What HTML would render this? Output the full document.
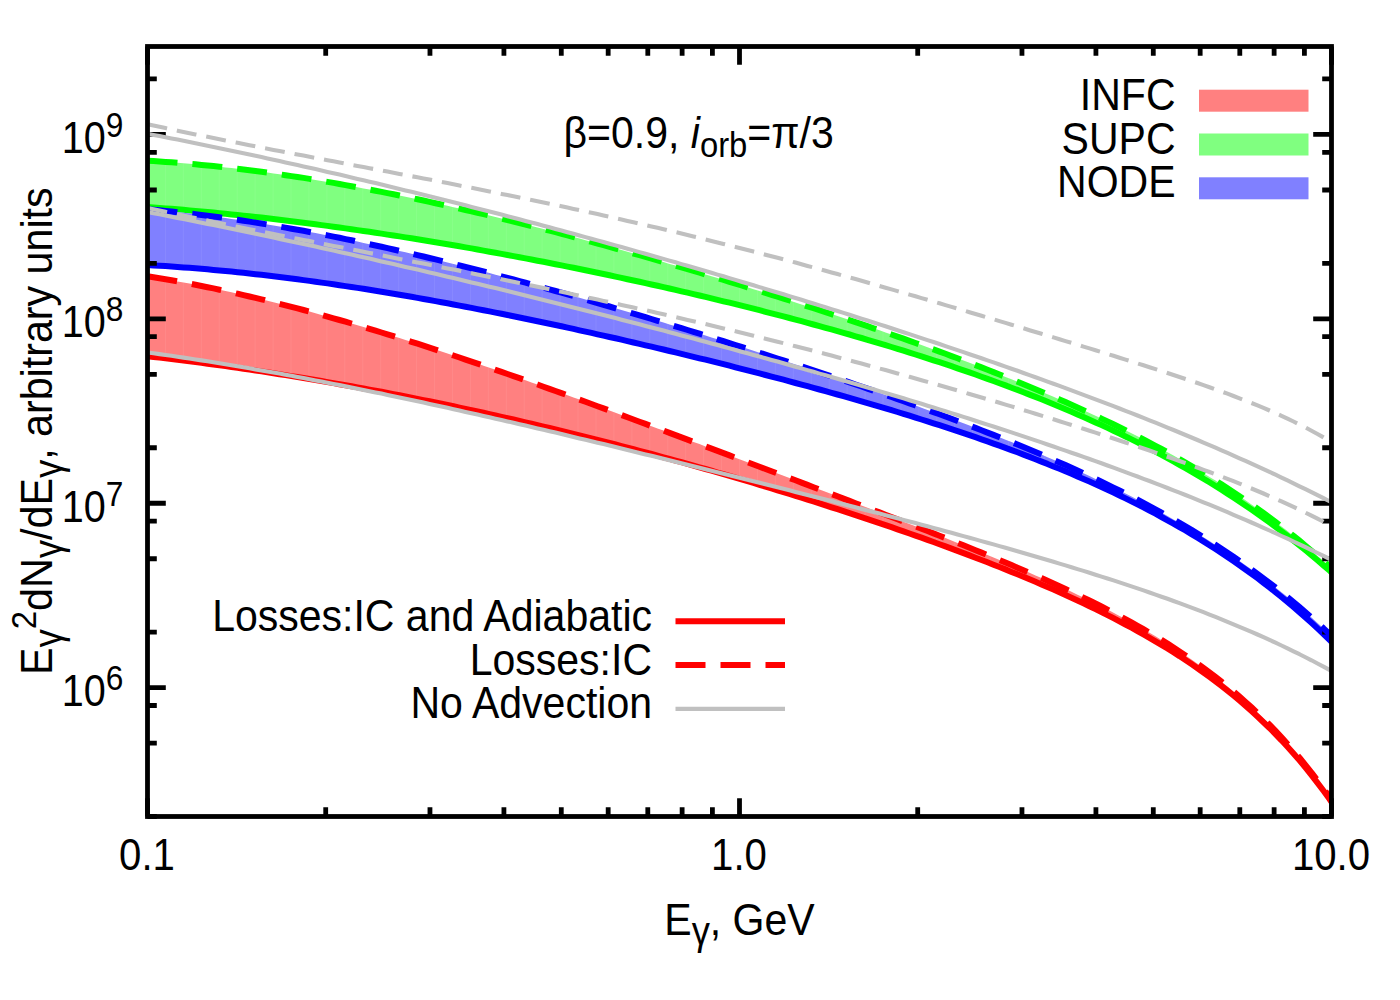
<!DOCTYPE html>
<html><head><meta charset="utf-8"><title>plot</title>
<style>html,body{margin:0;padding:0;background:#fff;}svg{display:block;}text{font-family:"Liberation Sans", sans-serif;fill:#000;}</style></head><body>
<svg width="1400" height="1000" viewBox="0 0 1400 1000">
<rect x="0" y="0" width="1400" height="1000" fill="#ffffff"/>
<clipPath id="c"><rect x="147.5" y="46.5" width="1184.0" height="770.0"/></clipPath>
<g clip-path="url(#c)" fill="none" stroke-linejoin="round">
<clipPath id="fr"><path d="M147.5,276.2 L153.5,277.2 L159.5,278.2 L165.5,279.2 L171.5,280.3 L177.5,281.4 L183.5,282.5 L189.5,283.6 L195.5,284.8 L201.5,286.0 L207.5,287.2 L213.5,288.4 L219.5,289.7 L225.5,291.0 L231.5,292.3 L237.5,293.7 L243.5,295.1 L249.5,296.5 L255.5,297.9 L261.5,299.3 L267.5,300.8 L273.5,302.3 L279.5,303.8 L285.5,305.3 L291.5,306.9 L297.5,308.4 L303.5,310.0 L309.5,311.6 L315.5,313.3 L321.5,314.9 L327.5,316.6 L333.5,318.3 L339.5,320.0 L345.5,321.7 L351.5,323.5 L357.5,325.2 L363.5,327.0 L369.5,328.8 L375.5,330.6 L381.5,332.5 L387.5,334.3 L393.5,336.2 L399.5,338.0 L405.5,339.9 L411.5,341.8 L417.5,343.7 L423.5,345.7 L429.5,347.6 L435.5,349.6 L441.5,351.6 L447.5,353.5 L453.5,355.5 L459.5,357.5 L465.5,359.6 L471.5,361.6 L477.5,363.6 L483.5,365.7 L489.5,367.7 L495.5,369.8 L501.5,371.9 L507.5,374.0 L513.5,376.1 L519.5,378.2 L525.5,380.3 L531.5,382.4 L537.5,384.5 L543.5,386.7 L549.5,388.8 L555.5,391.0 L561.5,393.1 L567.5,395.3 L573.5,397.5 L579.5,399.6 L585.5,401.8 L591.5,404.0 L597.5,406.2 L603.5,408.4 L609.5,410.6 L615.5,412.8 L621.5,415.0 L627.5,417.3 L633.5,419.5 L639.5,421.7 L645.5,423.9 L651.5,426.2 L657.5,428.4 L663.5,430.6 L669.5,432.9 L675.5,435.1 L681.5,437.4 L687.5,439.6 L693.5,441.9 L699.5,444.1 L705.5,446.4 L711.5,448.6 L717.5,450.9 L723.5,453.1 L729.5,455.4 L735.5,457.7 L741.5,459.9 L747.5,462.2 L753.5,464.5 L759.5,466.7 L765.5,469.0 L771.5,471.3 L777.5,473.5 L783.5,475.8 L789.5,478.1 L795.5,480.3 L801.5,482.6 L807.5,484.9 L813.5,487.2 L819.5,489.5 L825.5,491.7 L831.5,494.0 L837.5,496.3 L843.5,498.6 L849.5,500.9 L855.5,503.2 L861.5,505.5 L867.5,507.8 L873.5,510.1 L879.5,512.4 L885.5,514.7 L891.5,517.0 L897.5,519.3 L903.5,521.7 L909.5,524.0 L915.5,526.3 L921.5,528.7 L927.5,531.0 L933.5,533.4 L939.5,535.7 L945.5,538.1 L951.5,540.5 L957.5,542.9 L963.5,545.3 L969.5,547.7 L975.5,550.2 L981.5,552.6 L987.5,555.1 L993.5,557.6 L999.5,560.1 L1005.5,562.6 L1011.5,565.1 L1017.5,567.7 L1023.5,570.2 L1029.5,572.8 L1035.5,575.5 L1041.5,578.1 L1047.5,580.8 L1053.5,583.5 L1059.5,586.3 L1065.5,589.0 L1071.5,591.8 L1077.5,594.7 L1083.5,597.6 L1089.5,600.5 L1095.5,603.5 L1101.5,606.5 L1107.5,609.6 L1113.5,612.7 L1119.5,615.9 L1125.5,619.1 L1131.5,622.4 L1137.5,625.8 L1143.5,629.2 L1149.5,632.7 L1155.5,636.3 L1161.5,639.9 L1167.5,643.6 L1173.5,647.5 L1179.5,651.4 L1185.5,655.4 L1191.5,659.5 L1197.5,663.7 L1203.5,668.0 L1209.5,672.5 L1215.5,677.0 L1221.5,681.7 L1227.5,686.5 L1233.5,691.5 L1239.5,696.6 L1245.5,701.9 L1251.5,707.3 L1257.5,712.9 L1263.5,718.7 L1269.5,724.7 L1275.5,730.9 L1281.5,737.3 L1287.5,743.9 L1293.5,750.7 L1299.5,757.7 L1305.5,765.1 L1311.5,772.6 L1317.5,780.5 L1323.5,788.6 L1329.5,797.0 L1331.5,799.9 L1331.5,802.0 L1329.5,799.1 L1323.5,790.8 L1317.5,782.8 L1311.5,775.1 L1305.5,767.6 L1299.5,760.4 L1293.5,753.5 L1287.5,746.8 L1281.5,740.3 L1275.5,734.1 L1269.5,728.0 L1263.5,722.2 L1257.5,716.5 L1251.5,711.0 L1245.5,705.7 L1239.5,700.5 L1233.5,695.5 L1227.5,690.6 L1221.5,685.9 L1215.5,681.3 L1209.5,676.8 L1203.5,672.5 L1197.5,668.2 L1191.5,664.1 L1185.5,660.1 L1179.5,656.1 L1173.5,652.3 L1167.5,648.5 L1161.5,644.9 L1155.5,641.3 L1149.5,637.8 L1143.5,634.4 L1137.5,631.0 L1131.5,627.7 L1125.5,624.5 L1119.5,621.3 L1113.5,618.2 L1107.5,615.1 L1101.5,612.1 L1095.5,609.1 L1089.5,606.2 L1083.5,603.3 L1077.5,600.5 L1071.5,597.7 L1065.5,595.0 L1059.5,592.3 L1053.5,589.6 L1047.5,587.0 L1041.5,584.4 L1035.5,581.8 L1029.5,579.3 L1023.5,576.8 L1017.5,574.3 L1011.5,571.9 L1005.5,569.4 L999.5,567.0 L993.5,564.7 L987.5,562.3 L981.5,560.0 L975.5,557.7 L969.5,555.4 L963.5,553.1 L957.5,550.9 L951.5,548.6 L945.5,546.4 L939.5,544.2 L933.5,542.0 L927.5,539.9 L921.5,537.7 L915.5,535.6 L909.5,533.5 L903.5,531.4 L897.5,529.3 L891.5,527.2 L885.5,525.2 L879.5,523.1 L873.5,521.1 L867.5,519.1 L861.5,517.1 L855.5,515.1 L849.5,513.1 L843.5,511.2 L837.5,509.2 L831.5,507.3 L825.5,505.3 L819.5,503.4 L813.5,501.5 L807.5,499.6 L801.5,497.7 L795.5,495.8 L789.5,494.0 L783.5,492.1 L777.5,490.3 L771.5,488.5 L765.5,486.6 L759.5,484.8 L753.5,483.0 L747.5,481.2 L741.5,479.5 L735.5,477.7 L729.5,475.9 L723.5,474.2 L717.5,472.5 L711.5,470.7 L705.5,469.0 L699.5,467.3 L693.5,465.6 L687.5,463.9 L681.5,462.2 L675.5,460.6 L669.5,458.9 L663.5,457.3 L657.5,455.6 L651.5,454.0 L645.5,452.4 L639.5,450.8 L633.5,449.2 L627.5,447.6 L621.5,446.1 L615.5,444.5 L609.5,442.9 L603.5,441.4 L597.5,439.9 L591.5,438.3 L585.5,436.8 L579.5,435.3 L573.5,433.8 L567.5,432.4 L561.5,430.9 L555.5,429.4 L549.5,428.0 L543.5,426.6 L537.5,425.1 L531.5,423.7 L525.5,422.3 L519.5,420.9 L513.5,419.5 L507.5,418.2 L501.5,416.8 L495.5,415.4 L489.5,414.1 L483.5,412.8 L477.5,411.5 L471.5,410.1 L465.5,408.9 L459.5,407.6 L453.5,406.3 L447.5,405.0 L441.5,403.8 L435.5,402.5 L429.5,401.3 L423.5,400.1 L417.5,398.9 L411.5,397.7 L405.5,396.5 L399.5,395.3 L393.5,394.1 L387.5,393.0 L381.5,391.8 L375.5,390.7 L369.5,389.6 L363.5,388.5 L357.5,387.4 L351.5,386.3 L345.5,385.2 L339.5,384.2 L333.5,383.1 L327.5,382.1 L321.5,381.0 L315.5,380.0 L309.5,379.0 L303.5,378.0 L297.5,377.0 L291.5,376.1 L285.5,375.1 L279.5,374.2 L273.5,373.2 L267.5,372.3 L261.5,371.4 L255.5,370.5 L249.5,369.6 L243.5,368.7 L237.5,367.8 L231.5,367.0 L225.5,366.1 L219.5,365.3 L213.5,364.5 L207.5,363.7 L201.5,362.9 L195.5,362.1 L189.5,361.3 L183.5,360.5 L177.5,359.8 L171.5,359.0 L165.5,358.3 L159.5,357.6 L153.5,356.9 L147.5,356.2 Z"/></clipPath>
<path d="M147.5,276.2 L153.5,277.2 L159.5,278.2 L165.5,279.2 L171.5,280.3 L177.5,281.4 L183.5,282.5 L189.5,283.6 L195.5,284.8 L201.5,286.0 L207.5,287.2 L213.5,288.4 L219.5,289.7 L225.5,291.0 L231.5,292.3 L237.5,293.7 L243.5,295.1 L249.5,296.5 L255.5,297.9 L261.5,299.3 L267.5,300.8 L273.5,302.3 L279.5,303.8 L285.5,305.3 L291.5,306.9 L297.5,308.4 L303.5,310.0 L309.5,311.6 L315.5,313.3 L321.5,314.9 L327.5,316.6 L333.5,318.3 L339.5,320.0 L345.5,321.7 L351.5,323.5 L357.5,325.2 L363.5,327.0 L369.5,328.8 L375.5,330.6 L381.5,332.5 L387.5,334.3 L393.5,336.2 L399.5,338.0 L405.5,339.9 L411.5,341.8 L417.5,343.7 L423.5,345.7 L429.5,347.6 L435.5,349.6 L441.5,351.6 L447.5,353.5 L453.5,355.5 L459.5,357.5 L465.5,359.6 L471.5,361.6 L477.5,363.6 L483.5,365.7 L489.5,367.7 L495.5,369.8 L501.5,371.9 L507.5,374.0 L513.5,376.1 L519.5,378.2 L525.5,380.3 L531.5,382.4 L537.5,384.5 L543.5,386.7 L549.5,388.8 L555.5,391.0 L561.5,393.1 L567.5,395.3 L573.5,397.5 L579.5,399.6 L585.5,401.8 L591.5,404.0 L597.5,406.2 L603.5,408.4 L609.5,410.6 L615.5,412.8 L621.5,415.0 L627.5,417.3 L633.5,419.5 L639.5,421.7 L645.5,423.9 L651.5,426.2 L657.5,428.4 L663.5,430.6 L669.5,432.9 L675.5,435.1 L681.5,437.4 L687.5,439.6 L693.5,441.9 L699.5,444.1 L705.5,446.4 L711.5,448.6 L717.5,450.9 L723.5,453.1 L729.5,455.4 L735.5,457.7 L741.5,459.9 L747.5,462.2 L753.5,464.5 L759.5,466.7 L765.5,469.0 L771.5,471.3 L777.5,473.5 L783.5,475.8 L789.5,478.1 L795.5,480.3 L801.5,482.6 L807.5,484.9 L813.5,487.2 L819.5,489.5 L825.5,491.7 L831.5,494.0 L837.5,496.3 L843.5,498.6 L849.5,500.9 L855.5,503.2 L861.5,505.5 L867.5,507.8 L873.5,510.1 L879.5,512.4 L885.5,514.7 L891.5,517.0 L897.5,519.3 L903.5,521.7 L909.5,524.0 L915.5,526.3 L921.5,528.7 L927.5,531.0 L933.5,533.4 L939.5,535.7 L945.5,538.1 L951.5,540.5 L957.5,542.9 L963.5,545.3 L969.5,547.7 L975.5,550.2 L981.5,552.6 L987.5,555.1 L993.5,557.6 L999.5,560.1 L1005.5,562.6 L1011.5,565.1 L1017.5,567.7 L1023.5,570.2 L1029.5,572.8 L1035.5,575.5 L1041.5,578.1 L1047.5,580.8 L1053.5,583.5 L1059.5,586.3 L1065.5,589.0 L1071.5,591.8 L1077.5,594.7 L1083.5,597.6 L1089.5,600.5 L1095.5,603.5 L1101.5,606.5 L1107.5,609.6 L1113.5,612.7 L1119.5,615.9 L1125.5,619.1 L1131.5,622.4 L1137.5,625.8 L1143.5,629.2 L1149.5,632.7 L1155.5,636.3 L1161.5,639.9 L1167.5,643.6 L1173.5,647.5 L1179.5,651.4 L1185.5,655.4 L1191.5,659.5 L1197.5,663.7 L1203.5,668.0 L1209.5,672.5 L1215.5,677.0 L1221.5,681.7 L1227.5,686.5 L1233.5,691.5 L1239.5,696.6 L1245.5,701.9 L1251.5,707.3 L1257.5,712.9 L1263.5,718.7 L1269.5,724.7 L1275.5,730.9 L1281.5,737.3 L1287.5,743.9 L1293.5,750.7 L1299.5,757.7 L1305.5,765.1 L1311.5,772.6 L1317.5,780.5 L1323.5,788.6 L1329.5,797.0 L1331.5,799.9 L1331.5,802.0 L1329.5,799.1 L1323.5,790.8 L1317.5,782.8 L1311.5,775.1 L1305.5,767.6 L1299.5,760.4 L1293.5,753.5 L1287.5,746.8 L1281.5,740.3 L1275.5,734.1 L1269.5,728.0 L1263.5,722.2 L1257.5,716.5 L1251.5,711.0 L1245.5,705.7 L1239.5,700.5 L1233.5,695.5 L1227.5,690.6 L1221.5,685.9 L1215.5,681.3 L1209.5,676.8 L1203.5,672.5 L1197.5,668.2 L1191.5,664.1 L1185.5,660.1 L1179.5,656.1 L1173.5,652.3 L1167.5,648.5 L1161.5,644.9 L1155.5,641.3 L1149.5,637.8 L1143.5,634.4 L1137.5,631.0 L1131.5,627.7 L1125.5,624.5 L1119.5,621.3 L1113.5,618.2 L1107.5,615.1 L1101.5,612.1 L1095.5,609.1 L1089.5,606.2 L1083.5,603.3 L1077.5,600.5 L1071.5,597.7 L1065.5,595.0 L1059.5,592.3 L1053.5,589.6 L1047.5,587.0 L1041.5,584.4 L1035.5,581.8 L1029.5,579.3 L1023.5,576.8 L1017.5,574.3 L1011.5,571.9 L1005.5,569.4 L999.5,567.0 L993.5,564.7 L987.5,562.3 L981.5,560.0 L975.5,557.7 L969.5,555.4 L963.5,553.1 L957.5,550.9 L951.5,548.6 L945.5,546.4 L939.5,544.2 L933.5,542.0 L927.5,539.9 L921.5,537.7 L915.5,535.6 L909.5,533.5 L903.5,531.4 L897.5,529.3 L891.5,527.2 L885.5,525.2 L879.5,523.1 L873.5,521.1 L867.5,519.1 L861.5,517.1 L855.5,515.1 L849.5,513.1 L843.5,511.2 L837.5,509.2 L831.5,507.3 L825.5,505.3 L819.5,503.4 L813.5,501.5 L807.5,499.6 L801.5,497.7 L795.5,495.8 L789.5,494.0 L783.5,492.1 L777.5,490.3 L771.5,488.5 L765.5,486.6 L759.5,484.8 L753.5,483.0 L747.5,481.2 L741.5,479.5 L735.5,477.7 L729.5,475.9 L723.5,474.2 L717.5,472.5 L711.5,470.7 L705.5,469.0 L699.5,467.3 L693.5,465.6 L687.5,463.9 L681.5,462.2 L675.5,460.6 L669.5,458.9 L663.5,457.3 L657.5,455.6 L651.5,454.0 L645.5,452.4 L639.5,450.8 L633.5,449.2 L627.5,447.6 L621.5,446.1 L615.5,444.5 L609.5,442.9 L603.5,441.4 L597.5,439.9 L591.5,438.3 L585.5,436.8 L579.5,435.3 L573.5,433.8 L567.5,432.4 L561.5,430.9 L555.5,429.4 L549.5,428.0 L543.5,426.6 L537.5,425.1 L531.5,423.7 L525.5,422.3 L519.5,420.9 L513.5,419.5 L507.5,418.2 L501.5,416.8 L495.5,415.4 L489.5,414.1 L483.5,412.8 L477.5,411.5 L471.5,410.1 L465.5,408.9 L459.5,407.6 L453.5,406.3 L447.5,405.0 L441.5,403.8 L435.5,402.5 L429.5,401.3 L423.5,400.1 L417.5,398.9 L411.5,397.7 L405.5,396.5 L399.5,395.3 L393.5,394.1 L387.5,393.0 L381.5,391.8 L375.5,390.7 L369.5,389.6 L363.5,388.5 L357.5,387.4 L351.5,386.3 L345.5,385.2 L339.5,384.2 L333.5,383.1 L327.5,382.1 L321.5,381.0 L315.5,380.0 L309.5,379.0 L303.5,378.0 L297.5,377.0 L291.5,376.1 L285.5,375.1 L279.5,374.2 L273.5,373.2 L267.5,372.3 L261.5,371.4 L255.5,370.5 L249.5,369.6 L243.5,368.7 L237.5,367.8 L231.5,367.0 L225.5,366.1 L219.5,365.3 L213.5,364.5 L207.5,363.7 L201.5,362.9 L195.5,362.1 L189.5,361.3 L183.5,360.5 L177.5,359.8 L171.5,359.0 L165.5,358.3 L159.5,357.6 L153.5,356.9 L147.5,356.2 Z" fill="#ff8080" stroke="none"/>
<path d="M165.44,46.5V816.5M183.38,46.5V816.5M201.32,46.5V816.5M219.26,46.5V816.5M237.20,46.5V816.5M255.14,46.5V816.5M273.08,46.5V816.5M291.02,46.5V816.5M308.95,46.5V816.5M326.89,46.5V816.5M344.83,46.5V816.5M362.77,46.5V816.5M380.71,46.5V816.5M398.65,46.5V816.5M416.59,46.5V816.5M434.53,46.5V816.5M452.47,46.5V816.5M470.41,46.5V816.5M488.35,46.5V816.5M506.29,46.5V816.5M524.23,46.5V816.5M542.17,46.5V816.5M560.11,46.5V816.5M578.05,46.5V816.5M595.98,46.5V816.5M613.92,46.5V816.5M631.86,46.5V816.5M649.80,46.5V816.5M667.74,46.5V816.5M685.68,46.5V816.5M703.62,46.5V816.5M721.56,46.5V816.5M739.50,46.5V816.5M757.44,46.5V816.5M775.38,46.5V816.5M793.32,46.5V816.5M811.26,46.5V816.5M829.20,46.5V816.5M847.14,46.5V816.5M865.08,46.5V816.5M883.02,46.5V816.5M900.95,46.5V816.5M918.89,46.5V816.5M936.83,46.5V816.5M954.77,46.5V816.5M972.71,46.5V816.5M990.65,46.5V816.5M1008.59,46.5V816.5M1026.53,46.5V816.5M1044.47,46.5V816.5M1062.41,46.5V816.5M1080.35,46.5V816.5M1098.29,46.5V816.5M1116.23,46.5V816.5M1134.17,46.5V816.5M1152.11,46.5V816.5M1170.05,46.5V816.5M1187.98,46.5V816.5M1205.92,46.5V816.5M1223.86,46.5V816.5M1241.80,46.5V816.5M1259.74,46.5V816.5M1277.68,46.5V816.5M1295.62,46.5V816.5M1313.56,46.5V816.5" stroke="#ffffff" stroke-opacity="0.07" stroke-width="1" clip-path="url(#fr)"/>
<path d="M147.5,356.2 L153.5,356.9 L159.5,357.6 L165.5,358.3 L171.5,359.0 L177.5,359.8 L183.5,360.5 L189.5,361.3 L195.5,362.1 L201.5,362.9 L207.5,363.7 L213.5,364.5 L219.5,365.3 L225.5,366.1 L231.5,367.0 L237.5,367.8 L243.5,368.7 L249.5,369.6 L255.5,370.5 L261.5,371.4 L267.5,372.3 L273.5,373.2 L279.5,374.2 L285.5,375.1 L291.5,376.1 L297.5,377.0 L303.5,378.0 L309.5,379.0 L315.5,380.0 L321.5,381.0 L327.5,382.1 L333.5,383.1 L339.5,384.2 L345.5,385.2 L351.5,386.3 L357.5,387.4 L363.5,388.5 L369.5,389.6 L375.5,390.7 L381.5,391.8 L387.5,393.0 L393.5,394.1 L399.5,395.3 L405.5,396.5 L411.5,397.7 L417.5,398.9 L423.5,400.1 L429.5,401.3 L435.5,402.5 L441.5,403.8 L447.5,405.0 L453.5,406.3 L459.5,407.6 L465.5,408.9 L471.5,410.1 L477.5,411.5 L483.5,412.8 L489.5,414.1 L495.5,415.4 L501.5,416.8 L507.5,418.2 L513.5,419.5 L519.5,420.9 L525.5,422.3 L531.5,423.7 L537.5,425.1 L543.5,426.6 L549.5,428.0 L555.5,429.4 L561.5,430.9 L567.5,432.4 L573.5,433.8 L579.5,435.3 L585.5,436.8 L591.5,438.3 L597.5,439.9 L603.5,441.4 L609.5,442.9 L615.5,444.5 L621.5,446.1 L627.5,447.6 L633.5,449.2 L639.5,450.8 L645.5,452.4 L651.5,454.0 L657.5,455.6 L663.5,457.3 L669.5,458.9 L675.5,460.6 L681.5,462.2 L687.5,463.9 L693.5,465.6 L699.5,467.3 L705.5,469.0 L711.5,470.7 L717.5,472.5 L723.5,474.2 L729.5,475.9 L735.5,477.7 L741.5,479.5 L747.5,481.2 L753.5,483.0 L759.5,484.8 L765.5,486.6 L771.5,488.5 L777.5,490.3 L783.5,492.1 L789.5,494.0 L795.5,495.8 L801.5,497.7 L807.5,499.6 L813.5,501.5 L819.5,503.4 L825.5,505.3 L831.5,507.3 L837.5,509.2 L843.5,511.2 L849.5,513.1 L855.5,515.1 L861.5,517.1 L867.5,519.1 L873.5,521.1 L879.5,523.1 L885.5,525.2 L891.5,527.2 L897.5,529.3 L903.5,531.4 L909.5,533.5 L915.5,535.6 L921.5,537.7 L927.5,539.9 L933.5,542.0 L939.5,544.2 L945.5,546.4 L951.5,548.6 L957.5,550.9 L963.5,553.1 L969.5,555.4 L975.5,557.7 L981.5,560.0 L987.5,562.3 L993.5,564.7 L999.5,567.0 L1005.5,569.4 L1011.5,571.9 L1017.5,574.3 L1023.5,576.8 L1029.5,579.3 L1035.5,581.8 L1041.5,584.4 L1047.5,587.0 L1053.5,589.6 L1059.5,592.3 L1065.5,595.0 L1071.5,597.7 L1077.5,600.5 L1083.5,603.3 L1089.5,606.2 L1095.5,609.1 L1101.5,612.1 L1107.5,615.1 L1113.5,618.2 L1119.5,621.3 L1125.5,624.5 L1131.5,627.7 L1137.5,631.0 L1143.5,634.4 L1149.5,637.8 L1155.5,641.3 L1161.5,644.9 L1167.5,648.5 L1173.5,652.3 L1179.5,656.1 L1185.5,660.1 L1191.5,664.1 L1197.5,668.2 L1203.5,672.5 L1209.5,676.8 L1215.5,681.3 L1221.5,685.9 L1227.5,690.6 L1233.5,695.5 L1239.5,700.5 L1245.5,705.7 L1251.5,711.0 L1257.5,716.5 L1263.5,722.2 L1269.5,728.0 L1275.5,734.1 L1281.5,740.3 L1287.5,746.8 L1293.5,753.5 L1299.5,760.4 L1305.5,767.6 L1311.5,775.1 L1317.5,782.8 L1323.5,790.8 L1329.5,799.1 L1331.5,802.0" stroke="#ff0000" stroke-width="6.0"/>
<clipPath id="fg"><path d="M147.5,160.8 L153.5,161.1 L159.5,161.5 L165.5,161.9 L171.5,162.3 L177.5,162.8 L183.5,163.3 L189.5,163.8 L195.5,164.3 L201.5,164.9 L207.5,165.5 L213.5,166.1 L219.5,166.7 L225.5,167.4 L231.5,168.1 L237.5,168.8 L243.5,169.5 L249.5,170.2 L255.5,171.0 L261.5,171.8 L267.5,172.6 L273.5,173.5 L279.5,174.3 L285.5,175.2 L291.5,176.1 L297.5,177.0 L303.5,177.9 L309.5,178.9 L315.5,179.9 L321.5,180.9 L327.5,181.9 L333.5,182.9 L339.5,184.0 L345.5,185.1 L351.5,186.2 L357.5,187.3 L363.5,188.4 L369.5,189.5 L375.5,190.7 L381.5,191.9 L387.5,193.1 L393.5,194.3 L399.5,195.5 L405.5,196.7 L411.5,198.0 L417.5,199.3 L423.5,200.5 L429.5,201.9 L435.5,203.2 L441.5,204.5 L447.5,205.8 L453.5,207.2 L459.5,208.6 L465.5,210.0 L471.5,211.4 L477.5,212.8 L483.5,214.2 L489.5,215.6 L495.5,217.1 L501.5,218.6 L507.5,220.0 L513.5,221.5 L519.5,223.0 L525.5,224.5 L531.5,226.0 L537.5,227.6 L543.5,229.1 L549.5,230.7 L555.5,232.2 L561.5,233.8 L567.5,235.4 L573.5,237.0 L579.5,238.6 L585.5,240.2 L591.5,241.9 L597.5,243.5 L603.5,245.1 L609.5,246.8 L615.5,248.5 L621.5,250.1 L627.5,251.8 L633.5,253.5 L639.5,255.2 L645.5,256.9 L651.5,258.6 L657.5,260.4 L663.5,262.1 L669.5,263.9 L675.5,265.6 L681.5,267.4 L687.5,269.1 L693.5,270.9 L699.5,272.7 L705.5,274.5 L711.5,276.3 L717.5,278.1 L723.5,279.9 L729.5,281.8 L735.5,283.6 L741.5,285.4 L747.5,287.3 L753.5,289.2 L759.5,291.0 L765.5,292.9 L771.5,294.8 L777.5,296.7 L783.5,298.6 L789.5,300.5 L795.5,302.4 L801.5,304.4 L807.5,306.3 L813.5,308.2 L819.5,310.2 L825.5,312.2 L831.5,314.1 L837.5,316.1 L843.5,318.1 L849.5,320.1 L855.5,322.2 L861.5,324.2 L867.5,326.2 L873.5,328.3 L879.5,330.3 L885.5,332.4 L891.5,334.5 L897.5,336.6 L903.5,338.7 L909.5,340.8 L915.5,343.0 L921.5,345.1 L927.5,347.3 L933.5,349.4 L939.5,351.6 L945.5,353.8 L951.5,356.1 L957.5,358.3 L963.5,360.6 L969.5,362.8 L975.5,365.1 L981.5,367.4 L987.5,369.8 L993.5,372.1 L999.5,374.5 L1005.5,376.9 L1011.5,379.3 L1017.5,381.7 L1023.5,384.2 L1029.5,386.7 L1035.5,389.2 L1041.5,391.7 L1047.5,394.2 L1053.5,396.8 L1059.5,399.4 L1065.5,402.1 L1071.5,404.7 L1077.5,407.4 L1083.5,410.2 L1089.5,412.9 L1095.5,415.7 L1101.5,418.6 L1107.5,421.4 L1113.5,424.3 L1119.5,427.3 L1125.5,430.2 L1131.5,433.3 L1137.5,436.3 L1143.5,439.4 L1149.5,442.6 L1155.5,445.8 L1161.5,449.0 L1167.5,452.3 L1173.5,455.6 L1179.5,459.0 L1185.5,462.5 L1191.5,466.0 L1197.5,469.6 L1203.5,473.2 L1209.5,476.9 L1215.5,480.6 L1221.5,484.4 L1227.5,488.3 L1233.5,492.2 L1239.5,496.2 L1245.5,500.3 L1251.5,504.5 L1257.5,508.7 L1263.5,513.0 L1269.5,517.4 L1275.5,521.9 L1281.5,526.5 L1287.5,531.1 L1293.5,535.9 L1299.5,540.7 L1305.5,545.7 L1311.5,550.7 L1317.5,555.9 L1323.5,561.1 L1329.5,566.5 L1331.5,568.3 L1331.5,572.4 L1329.5,570.6 L1323.5,565.4 L1317.5,560.2 L1311.5,555.2 L1305.5,550.2 L1299.5,545.4 L1293.5,540.6 L1287.5,535.9 L1281.5,531.3 L1275.5,526.8 L1269.5,522.4 L1263.5,518.1 L1257.5,513.8 L1251.5,509.6 L1245.5,505.5 L1239.5,501.5 L1233.5,497.5 L1227.5,493.6 L1221.5,489.8 L1215.5,486.0 L1209.5,482.3 L1203.5,478.7 L1197.5,475.1 L1191.5,471.6 L1185.5,468.2 L1179.5,464.8 L1173.5,461.4 L1167.5,458.1 L1161.5,454.9 L1155.5,451.7 L1149.5,448.6 L1143.5,445.5 L1137.5,442.4 L1131.5,439.4 L1125.5,436.5 L1119.5,433.6 L1113.5,430.7 L1107.5,427.9 L1101.5,425.1 L1095.5,422.4 L1089.5,419.7 L1083.5,417.0 L1077.5,414.4 L1071.5,411.8 L1065.5,409.2 L1059.5,406.7 L1053.5,404.2 L1047.5,401.8 L1041.5,399.3 L1035.5,396.9 L1029.5,394.6 L1023.5,392.2 L1017.5,389.9 L1011.5,387.7 L1005.5,385.4 L999.5,383.2 L993.5,381.0 L987.5,378.8 L981.5,376.7 L975.5,374.5 L969.5,372.4 L963.5,370.3 L957.5,368.3 L951.5,366.2 L945.5,364.2 L939.5,362.2 L933.5,360.3 L927.5,358.3 L921.5,356.4 L915.5,354.5 L909.5,352.6 L903.5,350.7 L897.5,348.8 L891.5,347.0 L885.5,345.2 L879.5,343.4 L873.5,341.6 L867.5,339.8 L861.5,338.0 L855.5,336.3 L849.5,334.5 L843.5,332.8 L837.5,331.1 L831.5,329.4 L825.5,327.8 L819.5,326.1 L813.5,324.5 L807.5,322.8 L801.5,321.2 L795.5,319.6 L789.5,318.0 L783.5,316.4 L777.5,314.9 L771.5,313.3 L765.5,311.8 L759.5,310.2 L753.5,308.7 L747.5,307.2 L741.5,305.7 L735.5,304.2 L729.5,302.7 L723.5,301.3 L717.5,299.8 L711.5,298.4 L705.5,296.9 L699.5,295.5 L693.5,294.1 L687.5,292.7 L681.5,291.3 L675.5,289.9 L669.5,288.5 L663.5,287.2 L657.5,285.8 L651.5,284.5 L645.5,283.1 L639.5,281.8 L633.5,280.5 L627.5,279.2 L621.5,277.9 L615.5,276.6 L609.5,275.3 L603.5,274.0 L597.5,272.8 L591.5,271.5 L585.5,270.3 L579.5,269.0 L573.5,267.8 L567.5,266.6 L561.5,265.4 L555.5,264.2 L549.5,263.0 L543.5,261.8 L537.5,260.7 L531.5,259.5 L525.5,258.4 L519.5,257.2 L513.5,256.1 L507.5,255.0 L501.5,253.9 L495.5,252.8 L489.5,251.7 L483.5,250.6 L477.5,249.5 L471.5,248.4 L465.5,247.4 L459.5,246.3 L453.5,245.3 L447.5,244.3 L441.5,243.3 L435.5,242.3 L429.5,241.3 L423.5,240.3 L417.5,239.3 L411.5,238.3 L405.5,237.4 L399.5,236.4 L393.5,235.5 L387.5,234.6 L381.5,233.6 L375.5,232.7 L369.5,231.8 L363.5,231.0 L357.5,230.1 L351.5,229.2 L345.5,228.4 L339.5,227.5 L333.5,226.7 L327.5,225.9 L321.5,225.1 L315.5,224.3 L309.5,223.5 L303.5,222.7 L297.5,222.0 L291.5,221.2 L285.5,220.5 L279.5,219.8 L273.5,219.0 L267.5,218.3 L261.5,217.6 L255.5,217.0 L249.5,216.3 L243.5,215.7 L237.5,215.0 L231.5,214.4 L225.5,213.8 L219.5,213.2 L213.5,212.6 L207.5,212.0 L201.5,211.4 L195.5,210.9 L189.5,210.4 L183.5,209.8 L177.5,209.3 L171.5,208.8 L165.5,208.4 L159.5,207.9 L153.5,207.4 L147.5,207.0 Z"/></clipPath>
<path d="M147.5,160.8 L153.5,161.1 L159.5,161.5 L165.5,161.9 L171.5,162.3 L177.5,162.8 L183.5,163.3 L189.5,163.8 L195.5,164.3 L201.5,164.9 L207.5,165.5 L213.5,166.1 L219.5,166.7 L225.5,167.4 L231.5,168.1 L237.5,168.8 L243.5,169.5 L249.5,170.2 L255.5,171.0 L261.5,171.8 L267.5,172.6 L273.5,173.5 L279.5,174.3 L285.5,175.2 L291.5,176.1 L297.5,177.0 L303.5,177.9 L309.5,178.9 L315.5,179.9 L321.5,180.9 L327.5,181.9 L333.5,182.9 L339.5,184.0 L345.5,185.1 L351.5,186.2 L357.5,187.3 L363.5,188.4 L369.5,189.5 L375.5,190.7 L381.5,191.9 L387.5,193.1 L393.5,194.3 L399.5,195.5 L405.5,196.7 L411.5,198.0 L417.5,199.3 L423.5,200.5 L429.5,201.9 L435.5,203.2 L441.5,204.5 L447.5,205.8 L453.5,207.2 L459.5,208.6 L465.5,210.0 L471.5,211.4 L477.5,212.8 L483.5,214.2 L489.5,215.6 L495.5,217.1 L501.5,218.6 L507.5,220.0 L513.5,221.5 L519.5,223.0 L525.5,224.5 L531.5,226.0 L537.5,227.6 L543.5,229.1 L549.5,230.7 L555.5,232.2 L561.5,233.8 L567.5,235.4 L573.5,237.0 L579.5,238.6 L585.5,240.2 L591.5,241.9 L597.5,243.5 L603.5,245.1 L609.5,246.8 L615.5,248.5 L621.5,250.1 L627.5,251.8 L633.5,253.5 L639.5,255.2 L645.5,256.9 L651.5,258.6 L657.5,260.4 L663.5,262.1 L669.5,263.9 L675.5,265.6 L681.5,267.4 L687.5,269.1 L693.5,270.9 L699.5,272.7 L705.5,274.5 L711.5,276.3 L717.5,278.1 L723.5,279.9 L729.5,281.8 L735.5,283.6 L741.5,285.4 L747.5,287.3 L753.5,289.2 L759.5,291.0 L765.5,292.9 L771.5,294.8 L777.5,296.7 L783.5,298.6 L789.5,300.5 L795.5,302.4 L801.5,304.4 L807.5,306.3 L813.5,308.2 L819.5,310.2 L825.5,312.2 L831.5,314.1 L837.5,316.1 L843.5,318.1 L849.5,320.1 L855.5,322.2 L861.5,324.2 L867.5,326.2 L873.5,328.3 L879.5,330.3 L885.5,332.4 L891.5,334.5 L897.5,336.6 L903.5,338.7 L909.5,340.8 L915.5,343.0 L921.5,345.1 L927.5,347.3 L933.5,349.4 L939.5,351.6 L945.5,353.8 L951.5,356.1 L957.5,358.3 L963.5,360.6 L969.5,362.8 L975.5,365.1 L981.5,367.4 L987.5,369.8 L993.5,372.1 L999.5,374.5 L1005.5,376.9 L1011.5,379.3 L1017.5,381.7 L1023.5,384.2 L1029.5,386.7 L1035.5,389.2 L1041.5,391.7 L1047.5,394.2 L1053.5,396.8 L1059.5,399.4 L1065.5,402.1 L1071.5,404.7 L1077.5,407.4 L1083.5,410.2 L1089.5,412.9 L1095.5,415.7 L1101.5,418.6 L1107.5,421.4 L1113.5,424.3 L1119.5,427.3 L1125.5,430.2 L1131.5,433.3 L1137.5,436.3 L1143.5,439.4 L1149.5,442.6 L1155.5,445.8 L1161.5,449.0 L1167.5,452.3 L1173.5,455.6 L1179.5,459.0 L1185.5,462.5 L1191.5,466.0 L1197.5,469.6 L1203.5,473.2 L1209.5,476.9 L1215.5,480.6 L1221.5,484.4 L1227.5,488.3 L1233.5,492.2 L1239.5,496.2 L1245.5,500.3 L1251.5,504.5 L1257.5,508.7 L1263.5,513.0 L1269.5,517.4 L1275.5,521.9 L1281.5,526.5 L1287.5,531.1 L1293.5,535.9 L1299.5,540.7 L1305.5,545.7 L1311.5,550.7 L1317.5,555.9 L1323.5,561.1 L1329.5,566.5 L1331.5,568.3 L1331.5,572.4 L1329.5,570.6 L1323.5,565.4 L1317.5,560.2 L1311.5,555.2 L1305.5,550.2 L1299.5,545.4 L1293.5,540.6 L1287.5,535.9 L1281.5,531.3 L1275.5,526.8 L1269.5,522.4 L1263.5,518.1 L1257.5,513.8 L1251.5,509.6 L1245.5,505.5 L1239.5,501.5 L1233.5,497.5 L1227.5,493.6 L1221.5,489.8 L1215.5,486.0 L1209.5,482.3 L1203.5,478.7 L1197.5,475.1 L1191.5,471.6 L1185.5,468.2 L1179.5,464.8 L1173.5,461.4 L1167.5,458.1 L1161.5,454.9 L1155.5,451.7 L1149.5,448.6 L1143.5,445.5 L1137.5,442.4 L1131.5,439.4 L1125.5,436.5 L1119.5,433.6 L1113.5,430.7 L1107.5,427.9 L1101.5,425.1 L1095.5,422.4 L1089.5,419.7 L1083.5,417.0 L1077.5,414.4 L1071.5,411.8 L1065.5,409.2 L1059.5,406.7 L1053.5,404.2 L1047.5,401.8 L1041.5,399.3 L1035.5,396.9 L1029.5,394.6 L1023.5,392.2 L1017.5,389.9 L1011.5,387.7 L1005.5,385.4 L999.5,383.2 L993.5,381.0 L987.5,378.8 L981.5,376.7 L975.5,374.5 L969.5,372.4 L963.5,370.3 L957.5,368.3 L951.5,366.2 L945.5,364.2 L939.5,362.2 L933.5,360.3 L927.5,358.3 L921.5,356.4 L915.5,354.5 L909.5,352.6 L903.5,350.7 L897.5,348.8 L891.5,347.0 L885.5,345.2 L879.5,343.4 L873.5,341.6 L867.5,339.8 L861.5,338.0 L855.5,336.3 L849.5,334.5 L843.5,332.8 L837.5,331.1 L831.5,329.4 L825.5,327.8 L819.5,326.1 L813.5,324.5 L807.5,322.8 L801.5,321.2 L795.5,319.6 L789.5,318.0 L783.5,316.4 L777.5,314.9 L771.5,313.3 L765.5,311.8 L759.5,310.2 L753.5,308.7 L747.5,307.2 L741.5,305.7 L735.5,304.2 L729.5,302.7 L723.5,301.3 L717.5,299.8 L711.5,298.4 L705.5,296.9 L699.5,295.5 L693.5,294.1 L687.5,292.7 L681.5,291.3 L675.5,289.9 L669.5,288.5 L663.5,287.2 L657.5,285.8 L651.5,284.5 L645.5,283.1 L639.5,281.8 L633.5,280.5 L627.5,279.2 L621.5,277.9 L615.5,276.6 L609.5,275.3 L603.5,274.0 L597.5,272.8 L591.5,271.5 L585.5,270.3 L579.5,269.0 L573.5,267.8 L567.5,266.6 L561.5,265.4 L555.5,264.2 L549.5,263.0 L543.5,261.8 L537.5,260.7 L531.5,259.5 L525.5,258.4 L519.5,257.2 L513.5,256.1 L507.5,255.0 L501.5,253.9 L495.5,252.8 L489.5,251.7 L483.5,250.6 L477.5,249.5 L471.5,248.4 L465.5,247.4 L459.5,246.3 L453.5,245.3 L447.5,244.3 L441.5,243.3 L435.5,242.3 L429.5,241.3 L423.5,240.3 L417.5,239.3 L411.5,238.3 L405.5,237.4 L399.5,236.4 L393.5,235.5 L387.5,234.6 L381.5,233.6 L375.5,232.7 L369.5,231.8 L363.5,231.0 L357.5,230.1 L351.5,229.2 L345.5,228.4 L339.5,227.5 L333.5,226.7 L327.5,225.9 L321.5,225.1 L315.5,224.3 L309.5,223.5 L303.5,222.7 L297.5,222.0 L291.5,221.2 L285.5,220.5 L279.5,219.8 L273.5,219.0 L267.5,218.3 L261.5,217.6 L255.5,217.0 L249.5,216.3 L243.5,215.7 L237.5,215.0 L231.5,214.4 L225.5,213.8 L219.5,213.2 L213.5,212.6 L207.5,212.0 L201.5,211.4 L195.5,210.9 L189.5,210.4 L183.5,209.8 L177.5,209.3 L171.5,208.8 L165.5,208.4 L159.5,207.9 L153.5,207.4 L147.5,207.0 Z" fill="#80ff80" stroke="none"/>
<path d="M165.44,46.5V816.5M183.38,46.5V816.5M201.32,46.5V816.5M219.26,46.5V816.5M237.20,46.5V816.5M255.14,46.5V816.5M273.08,46.5V816.5M291.02,46.5V816.5M308.95,46.5V816.5M326.89,46.5V816.5M344.83,46.5V816.5M362.77,46.5V816.5M380.71,46.5V816.5M398.65,46.5V816.5M416.59,46.5V816.5M434.53,46.5V816.5M452.47,46.5V816.5M470.41,46.5V816.5M488.35,46.5V816.5M506.29,46.5V816.5M524.23,46.5V816.5M542.17,46.5V816.5M560.11,46.5V816.5M578.05,46.5V816.5M595.98,46.5V816.5M613.92,46.5V816.5M631.86,46.5V816.5M649.80,46.5V816.5M667.74,46.5V816.5M685.68,46.5V816.5M703.62,46.5V816.5M721.56,46.5V816.5M739.50,46.5V816.5M757.44,46.5V816.5M775.38,46.5V816.5M793.32,46.5V816.5M811.26,46.5V816.5M829.20,46.5V816.5M847.14,46.5V816.5M865.08,46.5V816.5M883.02,46.5V816.5M900.95,46.5V816.5M918.89,46.5V816.5M936.83,46.5V816.5M954.77,46.5V816.5M972.71,46.5V816.5M990.65,46.5V816.5M1008.59,46.5V816.5M1026.53,46.5V816.5M1044.47,46.5V816.5M1062.41,46.5V816.5M1080.35,46.5V816.5M1098.29,46.5V816.5M1116.23,46.5V816.5M1134.17,46.5V816.5M1152.11,46.5V816.5M1170.05,46.5V816.5M1187.98,46.5V816.5M1205.92,46.5V816.5M1223.86,46.5V816.5M1241.80,46.5V816.5M1259.74,46.5V816.5M1277.68,46.5V816.5M1295.62,46.5V816.5M1313.56,46.5V816.5" stroke="#ffffff" stroke-opacity="0.07" stroke-width="1" clip-path="url(#fg)"/>
<path d="M147.5,207.0 L153.5,207.4 L159.5,207.9 L165.5,208.4 L171.5,208.8 L177.5,209.3 L183.5,209.8 L189.5,210.4 L195.5,210.9 L201.5,211.4 L207.5,212.0 L213.5,212.6 L219.5,213.2 L225.5,213.8 L231.5,214.4 L237.5,215.0 L243.5,215.7 L249.5,216.3 L255.5,217.0 L261.5,217.6 L267.5,218.3 L273.5,219.0 L279.5,219.8 L285.5,220.5 L291.5,221.2 L297.5,222.0 L303.5,222.7 L309.5,223.5 L315.5,224.3 L321.5,225.1 L327.5,225.9 L333.5,226.7 L339.5,227.5 L345.5,228.4 L351.5,229.2 L357.5,230.1 L363.5,231.0 L369.5,231.8 L375.5,232.7 L381.5,233.6 L387.5,234.6 L393.5,235.5 L399.5,236.4 L405.5,237.4 L411.5,238.3 L417.5,239.3 L423.5,240.3 L429.5,241.3 L435.5,242.3 L441.5,243.3 L447.5,244.3 L453.5,245.3 L459.5,246.3 L465.5,247.4 L471.5,248.4 L477.5,249.5 L483.5,250.6 L489.5,251.7 L495.5,252.8 L501.5,253.9 L507.5,255.0 L513.5,256.1 L519.5,257.2 L525.5,258.4 L531.5,259.5 L537.5,260.7 L543.5,261.8 L549.5,263.0 L555.5,264.2 L561.5,265.4 L567.5,266.6 L573.5,267.8 L579.5,269.0 L585.5,270.3 L591.5,271.5 L597.5,272.8 L603.5,274.0 L609.5,275.3 L615.5,276.6 L621.5,277.9 L627.5,279.2 L633.5,280.5 L639.5,281.8 L645.5,283.1 L651.5,284.5 L657.5,285.8 L663.5,287.2 L669.5,288.5 L675.5,289.9 L681.5,291.3 L687.5,292.7 L693.5,294.1 L699.5,295.5 L705.5,296.9 L711.5,298.4 L717.5,299.8 L723.5,301.3 L729.5,302.7 L735.5,304.2 L741.5,305.7 L747.5,307.2 L753.5,308.7 L759.5,310.2 L765.5,311.8 L771.5,313.3 L777.5,314.9 L783.5,316.4 L789.5,318.0 L795.5,319.6 L801.5,321.2 L807.5,322.8 L813.5,324.5 L819.5,326.1 L825.5,327.8 L831.5,329.4 L837.5,331.1 L843.5,332.8 L849.5,334.5 L855.5,336.3 L861.5,338.0 L867.5,339.8 L873.5,341.6 L879.5,343.4 L885.5,345.2 L891.5,347.0 L897.5,348.8 L903.5,350.7 L909.5,352.6 L915.5,354.5 L921.5,356.4 L927.5,358.3 L933.5,360.3 L939.5,362.2 L945.5,364.2 L951.5,366.2 L957.5,368.3 L963.5,370.3 L969.5,372.4 L975.5,374.5 L981.5,376.7 L987.5,378.8 L993.5,381.0 L999.5,383.2 L1005.5,385.4 L1011.5,387.7 L1017.5,389.9 L1023.5,392.2 L1029.5,394.6 L1035.5,396.9 L1041.5,399.3 L1047.5,401.8 L1053.5,404.2 L1059.5,406.7 L1065.5,409.2 L1071.5,411.8 L1077.5,414.4 L1083.5,417.0 L1089.5,419.7 L1095.5,422.4 L1101.5,425.1 L1107.5,427.9 L1113.5,430.7 L1119.5,433.6 L1125.5,436.5 L1131.5,439.4 L1137.5,442.4 L1143.5,445.5 L1149.5,448.6 L1155.5,451.7 L1161.5,454.9 L1167.5,458.1 L1173.5,461.4 L1179.5,464.8 L1185.5,468.2 L1191.5,471.6 L1197.5,475.1 L1203.5,478.7 L1209.5,482.3 L1215.5,486.0 L1221.5,489.8 L1227.5,493.6 L1233.5,497.5 L1239.5,501.5 L1245.5,505.5 L1251.5,509.6 L1257.5,513.8 L1263.5,518.1 L1269.5,522.4 L1275.5,526.8 L1281.5,531.3 L1287.5,535.9 L1293.5,540.6 L1299.5,545.4 L1305.5,550.2 L1311.5,555.2 L1317.5,560.2 L1323.5,565.4 L1329.5,570.6 L1331.5,572.4" stroke="#00ff00" stroke-width="6.0"/>
<clipPath id="fb"><path d="M147.5,209.3 L153.5,209.8 L159.5,210.3 L165.5,210.9 L171.5,211.5 L177.5,212.2 L183.5,212.8 L189.5,213.5 L195.5,214.2 L201.5,214.9 L207.5,215.7 L213.5,216.5 L219.5,217.3 L225.5,218.1 L231.5,219.0 L237.5,219.8 L243.5,220.7 L249.5,221.6 L255.5,222.6 L261.5,223.5 L267.5,224.5 L273.5,225.5 L279.5,226.6 L285.5,227.6 L291.5,228.7 L297.5,229.7 L303.5,230.8 L309.5,232.0 L315.5,233.1 L321.5,234.3 L327.5,235.4 L333.5,236.6 L339.5,237.8 L345.5,239.1 L351.5,240.3 L357.5,241.6 L363.5,242.9 L369.5,244.2 L375.5,245.5 L381.5,246.8 L387.5,248.1 L393.5,249.5 L399.5,250.9 L405.5,252.3 L411.5,253.7 L417.5,255.1 L423.5,256.5 L429.5,258.0 L435.5,259.4 L441.5,260.9 L447.5,262.4 L453.5,263.9 L459.5,265.4 L465.5,266.9 L471.5,268.4 L477.5,270.0 L483.5,271.5 L489.5,273.1 L495.5,274.7 L501.5,276.3 L507.5,277.9 L513.5,279.5 L519.5,281.1 L525.5,282.7 L531.5,284.4 L537.5,286.0 L543.5,287.7 L549.5,289.3 L555.5,291.0 L561.5,292.7 L567.5,294.4 L573.5,296.1 L579.5,297.8 L585.5,299.6 L591.5,301.3 L597.5,303.0 L603.5,304.8 L609.5,306.5 L615.5,308.3 L621.5,310.1 L627.5,311.8 L633.5,313.6 L639.5,315.4 L645.5,317.2 L651.5,319.0 L657.5,320.8 L663.5,322.6 L669.5,324.5 L675.5,326.3 L681.5,328.1 L687.5,330.0 L693.5,331.8 L699.5,333.7 L705.5,335.6 L711.5,337.4 L717.5,339.3 L723.5,341.2 L729.5,343.1 L735.5,345.0 L741.5,346.9 L747.5,348.8 L753.5,350.7 L759.5,352.7 L765.5,354.6 L771.5,356.5 L777.5,358.5 L783.5,360.4 L789.5,362.4 L795.5,364.4 L801.5,366.3 L807.5,368.3 L813.5,370.3 L819.5,372.3 L825.5,374.3 L831.5,376.3 L837.5,378.3 L843.5,380.4 L849.5,382.4 L855.5,384.5 L861.5,386.5 L867.5,388.6 L873.5,390.7 L879.5,392.8 L885.5,394.9 L891.5,397.0 L897.5,399.1 L903.5,401.2 L909.5,403.4 L915.5,405.5 L921.5,407.7 L927.5,409.9 L933.5,412.1 L939.5,414.3 L945.5,416.5 L951.5,418.8 L957.5,421.0 L963.5,423.3 L969.5,425.6 L975.5,427.9 L981.5,430.2 L987.5,432.6 L993.5,434.9 L999.5,437.3 L1005.5,439.7 L1011.5,442.1 L1017.5,444.6 L1023.5,447.1 L1029.5,449.6 L1035.5,452.1 L1041.5,454.6 L1047.5,457.2 L1053.5,459.8 L1059.5,462.4 L1065.5,465.1 L1071.5,467.8 L1077.5,470.5 L1083.5,473.3 L1089.5,476.0 L1095.5,478.9 L1101.5,481.7 L1107.5,484.6 L1113.5,487.6 L1119.5,490.5 L1125.5,493.6 L1131.5,496.6 L1137.5,499.7 L1143.5,502.9 L1149.5,506.1 L1155.5,509.3 L1161.5,512.6 L1167.5,516.0 L1173.5,519.4 L1179.5,522.8 L1185.5,526.4 L1191.5,529.9 L1197.5,533.6 L1203.5,537.3 L1209.5,541.1 L1215.5,544.9 L1221.5,548.8 L1227.5,552.8 L1233.5,556.8 L1239.5,561.0 L1245.5,565.2 L1251.5,569.5 L1257.5,573.9 L1263.5,578.3 L1269.5,582.9 L1275.5,587.5 L1281.5,592.3 L1287.5,597.1 L1293.5,602.0 L1299.5,607.1 L1305.5,612.2 L1311.5,617.5 L1317.5,622.9 L1323.5,628.3 L1329.5,634.0 L1331.5,635.9 L1331.5,641.8 L1329.5,639.8 L1323.5,634.0 L1317.5,628.4 L1311.5,622.8 L1305.5,617.4 L1299.5,612.2 L1293.5,607.0 L1287.5,601.9 L1281.5,597.0 L1275.5,592.1 L1269.5,587.4 L1263.5,582.8 L1257.5,578.2 L1251.5,573.8 L1245.5,569.5 L1239.5,565.2 L1233.5,561.0 L1227.5,556.9 L1221.5,552.9 L1215.5,549.0 L1209.5,545.2 L1203.5,541.4 L1197.5,537.7 L1191.5,534.1 L1185.5,530.5 L1179.5,527.1 L1173.5,523.6 L1167.5,520.3 L1161.5,517.0 L1155.5,513.7 L1149.5,510.6 L1143.5,507.4 L1137.5,504.4 L1131.5,501.4 L1125.5,498.4 L1119.5,495.5 L1113.5,492.6 L1107.5,489.8 L1101.5,487.0 L1095.5,484.3 L1089.5,481.6 L1083.5,479.0 L1077.5,476.4 L1071.5,473.8 L1065.5,471.3 L1059.5,468.8 L1053.5,466.4 L1047.5,463.9 L1041.5,461.6 L1035.5,459.2 L1029.5,456.9 L1023.5,454.6 L1017.5,452.3 L1011.5,450.1 L1005.5,447.9 L999.5,445.7 L993.5,443.6 L987.5,441.4 L981.5,439.3 L975.5,437.2 L969.5,435.2 L963.5,433.1 L957.5,431.1 L951.5,429.1 L945.5,427.2 L939.5,425.2 L933.5,423.3 L927.5,421.4 L921.5,419.5 L915.5,417.6 L909.5,415.7 L903.5,413.9 L897.5,412.0 L891.5,410.2 L885.5,408.4 L879.5,406.6 L873.5,404.9 L867.5,403.1 L861.5,401.4 L855.5,399.6 L849.5,397.9 L843.5,396.2 L837.5,394.5 L831.5,392.8 L825.5,391.2 L819.5,389.5 L813.5,387.8 L807.5,386.2 L801.5,384.6 L795.5,383.0 L789.5,381.3 L783.5,379.7 L777.5,378.2 L771.5,376.6 L765.5,375.0 L759.5,373.4 L753.5,371.9 L747.5,370.3 L741.5,368.8 L735.5,367.3 L729.5,365.7 L723.5,364.2 L717.5,362.7 L711.5,361.2 L705.5,359.7 L699.5,358.3 L693.5,356.8 L687.5,355.3 L681.5,353.9 L675.5,352.4 L669.5,351.0 L663.5,349.5 L657.5,348.1 L651.5,346.7 L645.5,345.3 L639.5,343.9 L633.5,342.5 L627.5,341.1 L621.5,339.7 L615.5,338.3 L609.5,337.0 L603.5,335.6 L597.5,334.3 L591.5,332.9 L585.5,331.6 L579.5,330.3 L573.5,328.9 L567.5,327.6 L561.5,326.3 L555.5,325.0 L549.5,323.8 L543.5,322.5 L537.5,321.2 L531.5,320.0 L525.5,318.7 L519.5,317.5 L513.5,316.2 L507.5,315.0 L501.5,313.8 L495.5,312.6 L489.5,311.4 L483.5,310.2 L477.5,309.1 L471.5,307.9 L465.5,306.7 L459.5,305.6 L453.5,304.5 L447.5,303.3 L441.5,302.2 L435.5,301.1 L429.5,300.0 L423.5,299.0 L417.5,297.9 L411.5,296.8 L405.5,295.8 L399.5,294.8 L393.5,293.7 L387.5,292.7 L381.5,291.8 L375.5,290.8 L369.5,289.8 L363.5,288.8 L357.5,287.9 L351.5,287.0 L345.5,286.1 L339.5,285.2 L333.5,284.3 L327.5,283.4 L321.5,282.6 L315.5,281.7 L309.5,280.9 L303.5,280.1 L297.5,279.3 L291.5,278.5 L285.5,277.7 L279.5,277.0 L273.5,276.2 L267.5,275.5 L261.5,274.8 L255.5,274.2 L249.5,273.5 L243.5,272.8 L237.5,272.2 L231.5,271.6 L225.5,271.0 L219.5,270.4 L213.5,269.9 L207.5,269.3 L201.5,268.8 L195.5,268.3 L189.5,267.8 L183.5,267.4 L177.5,266.9 L171.5,266.5 L165.5,266.1 L159.5,265.7 L153.5,265.4 L147.5,265.1 Z"/></clipPath>
<path d="M147.5,209.3 L153.5,209.8 L159.5,210.3 L165.5,210.9 L171.5,211.5 L177.5,212.2 L183.5,212.8 L189.5,213.5 L195.5,214.2 L201.5,214.9 L207.5,215.7 L213.5,216.5 L219.5,217.3 L225.5,218.1 L231.5,219.0 L237.5,219.8 L243.5,220.7 L249.5,221.6 L255.5,222.6 L261.5,223.5 L267.5,224.5 L273.5,225.5 L279.5,226.6 L285.5,227.6 L291.5,228.7 L297.5,229.7 L303.5,230.8 L309.5,232.0 L315.5,233.1 L321.5,234.3 L327.5,235.4 L333.5,236.6 L339.5,237.8 L345.5,239.1 L351.5,240.3 L357.5,241.6 L363.5,242.9 L369.5,244.2 L375.5,245.5 L381.5,246.8 L387.5,248.1 L393.5,249.5 L399.5,250.9 L405.5,252.3 L411.5,253.7 L417.5,255.1 L423.5,256.5 L429.5,258.0 L435.5,259.4 L441.5,260.9 L447.5,262.4 L453.5,263.9 L459.5,265.4 L465.5,266.9 L471.5,268.4 L477.5,270.0 L483.5,271.5 L489.5,273.1 L495.5,274.7 L501.5,276.3 L507.5,277.9 L513.5,279.5 L519.5,281.1 L525.5,282.7 L531.5,284.4 L537.5,286.0 L543.5,287.7 L549.5,289.3 L555.5,291.0 L561.5,292.7 L567.5,294.4 L573.5,296.1 L579.5,297.8 L585.5,299.6 L591.5,301.3 L597.5,303.0 L603.5,304.8 L609.5,306.5 L615.5,308.3 L621.5,310.1 L627.5,311.8 L633.5,313.6 L639.5,315.4 L645.5,317.2 L651.5,319.0 L657.5,320.8 L663.5,322.6 L669.5,324.5 L675.5,326.3 L681.5,328.1 L687.5,330.0 L693.5,331.8 L699.5,333.7 L705.5,335.6 L711.5,337.4 L717.5,339.3 L723.5,341.2 L729.5,343.1 L735.5,345.0 L741.5,346.9 L747.5,348.8 L753.5,350.7 L759.5,352.7 L765.5,354.6 L771.5,356.5 L777.5,358.5 L783.5,360.4 L789.5,362.4 L795.5,364.4 L801.5,366.3 L807.5,368.3 L813.5,370.3 L819.5,372.3 L825.5,374.3 L831.5,376.3 L837.5,378.3 L843.5,380.4 L849.5,382.4 L855.5,384.5 L861.5,386.5 L867.5,388.6 L873.5,390.7 L879.5,392.8 L885.5,394.9 L891.5,397.0 L897.5,399.1 L903.5,401.2 L909.5,403.4 L915.5,405.5 L921.5,407.7 L927.5,409.9 L933.5,412.1 L939.5,414.3 L945.5,416.5 L951.5,418.8 L957.5,421.0 L963.5,423.3 L969.5,425.6 L975.5,427.9 L981.5,430.2 L987.5,432.6 L993.5,434.9 L999.5,437.3 L1005.5,439.7 L1011.5,442.1 L1017.5,444.6 L1023.5,447.1 L1029.5,449.6 L1035.5,452.1 L1041.5,454.6 L1047.5,457.2 L1053.5,459.8 L1059.5,462.4 L1065.5,465.1 L1071.5,467.8 L1077.5,470.5 L1083.5,473.3 L1089.5,476.0 L1095.5,478.9 L1101.5,481.7 L1107.5,484.6 L1113.5,487.6 L1119.5,490.5 L1125.5,493.6 L1131.5,496.6 L1137.5,499.7 L1143.5,502.9 L1149.5,506.1 L1155.5,509.3 L1161.5,512.6 L1167.5,516.0 L1173.5,519.4 L1179.5,522.8 L1185.5,526.4 L1191.5,529.9 L1197.5,533.6 L1203.5,537.3 L1209.5,541.1 L1215.5,544.9 L1221.5,548.8 L1227.5,552.8 L1233.5,556.8 L1239.5,561.0 L1245.5,565.2 L1251.5,569.5 L1257.5,573.9 L1263.5,578.3 L1269.5,582.9 L1275.5,587.5 L1281.5,592.3 L1287.5,597.1 L1293.5,602.0 L1299.5,607.1 L1305.5,612.2 L1311.5,617.5 L1317.5,622.9 L1323.5,628.3 L1329.5,634.0 L1331.5,635.9 L1331.5,641.8 L1329.5,639.8 L1323.5,634.0 L1317.5,628.4 L1311.5,622.8 L1305.5,617.4 L1299.5,612.2 L1293.5,607.0 L1287.5,601.9 L1281.5,597.0 L1275.5,592.1 L1269.5,587.4 L1263.5,582.8 L1257.5,578.2 L1251.5,573.8 L1245.5,569.5 L1239.5,565.2 L1233.5,561.0 L1227.5,556.9 L1221.5,552.9 L1215.5,549.0 L1209.5,545.2 L1203.5,541.4 L1197.5,537.7 L1191.5,534.1 L1185.5,530.5 L1179.5,527.1 L1173.5,523.6 L1167.5,520.3 L1161.5,517.0 L1155.5,513.7 L1149.5,510.6 L1143.5,507.4 L1137.5,504.4 L1131.5,501.4 L1125.5,498.4 L1119.5,495.5 L1113.5,492.6 L1107.5,489.8 L1101.5,487.0 L1095.5,484.3 L1089.5,481.6 L1083.5,479.0 L1077.5,476.4 L1071.5,473.8 L1065.5,471.3 L1059.5,468.8 L1053.5,466.4 L1047.5,463.9 L1041.5,461.6 L1035.5,459.2 L1029.5,456.9 L1023.5,454.6 L1017.5,452.3 L1011.5,450.1 L1005.5,447.9 L999.5,445.7 L993.5,443.6 L987.5,441.4 L981.5,439.3 L975.5,437.2 L969.5,435.2 L963.5,433.1 L957.5,431.1 L951.5,429.1 L945.5,427.2 L939.5,425.2 L933.5,423.3 L927.5,421.4 L921.5,419.5 L915.5,417.6 L909.5,415.7 L903.5,413.9 L897.5,412.0 L891.5,410.2 L885.5,408.4 L879.5,406.6 L873.5,404.9 L867.5,403.1 L861.5,401.4 L855.5,399.6 L849.5,397.9 L843.5,396.2 L837.5,394.5 L831.5,392.8 L825.5,391.2 L819.5,389.5 L813.5,387.8 L807.5,386.2 L801.5,384.6 L795.5,383.0 L789.5,381.3 L783.5,379.7 L777.5,378.2 L771.5,376.6 L765.5,375.0 L759.5,373.4 L753.5,371.9 L747.5,370.3 L741.5,368.8 L735.5,367.3 L729.5,365.7 L723.5,364.2 L717.5,362.7 L711.5,361.2 L705.5,359.7 L699.5,358.3 L693.5,356.8 L687.5,355.3 L681.5,353.9 L675.5,352.4 L669.5,351.0 L663.5,349.5 L657.5,348.1 L651.5,346.7 L645.5,345.3 L639.5,343.9 L633.5,342.5 L627.5,341.1 L621.5,339.7 L615.5,338.3 L609.5,337.0 L603.5,335.6 L597.5,334.3 L591.5,332.9 L585.5,331.6 L579.5,330.3 L573.5,328.9 L567.5,327.6 L561.5,326.3 L555.5,325.0 L549.5,323.8 L543.5,322.5 L537.5,321.2 L531.5,320.0 L525.5,318.7 L519.5,317.5 L513.5,316.2 L507.5,315.0 L501.5,313.8 L495.5,312.6 L489.5,311.4 L483.5,310.2 L477.5,309.1 L471.5,307.9 L465.5,306.7 L459.5,305.6 L453.5,304.5 L447.5,303.3 L441.5,302.2 L435.5,301.1 L429.5,300.0 L423.5,299.0 L417.5,297.9 L411.5,296.8 L405.5,295.8 L399.5,294.8 L393.5,293.7 L387.5,292.7 L381.5,291.8 L375.5,290.8 L369.5,289.8 L363.5,288.8 L357.5,287.9 L351.5,287.0 L345.5,286.1 L339.5,285.2 L333.5,284.3 L327.5,283.4 L321.5,282.6 L315.5,281.7 L309.5,280.9 L303.5,280.1 L297.5,279.3 L291.5,278.5 L285.5,277.7 L279.5,277.0 L273.5,276.2 L267.5,275.5 L261.5,274.8 L255.5,274.2 L249.5,273.5 L243.5,272.8 L237.5,272.2 L231.5,271.6 L225.5,271.0 L219.5,270.4 L213.5,269.9 L207.5,269.3 L201.5,268.8 L195.5,268.3 L189.5,267.8 L183.5,267.4 L177.5,266.9 L171.5,266.5 L165.5,266.1 L159.5,265.7 L153.5,265.4 L147.5,265.1 Z" fill="#8080ff" stroke="none"/>
<path d="M165.44,46.5V816.5M183.38,46.5V816.5M201.32,46.5V816.5M219.26,46.5V816.5M237.20,46.5V816.5M255.14,46.5V816.5M273.08,46.5V816.5M291.02,46.5V816.5M308.95,46.5V816.5M326.89,46.5V816.5M344.83,46.5V816.5M362.77,46.5V816.5M380.71,46.5V816.5M398.65,46.5V816.5M416.59,46.5V816.5M434.53,46.5V816.5M452.47,46.5V816.5M470.41,46.5V816.5M488.35,46.5V816.5M506.29,46.5V816.5M524.23,46.5V816.5M542.17,46.5V816.5M560.11,46.5V816.5M578.05,46.5V816.5M595.98,46.5V816.5M613.92,46.5V816.5M631.86,46.5V816.5M649.80,46.5V816.5M667.74,46.5V816.5M685.68,46.5V816.5M703.62,46.5V816.5M721.56,46.5V816.5M739.50,46.5V816.5M757.44,46.5V816.5M775.38,46.5V816.5M793.32,46.5V816.5M811.26,46.5V816.5M829.20,46.5V816.5M847.14,46.5V816.5M865.08,46.5V816.5M883.02,46.5V816.5M900.95,46.5V816.5M918.89,46.5V816.5M936.83,46.5V816.5M954.77,46.5V816.5M972.71,46.5V816.5M990.65,46.5V816.5M1008.59,46.5V816.5M1026.53,46.5V816.5M1044.47,46.5V816.5M1062.41,46.5V816.5M1080.35,46.5V816.5M1098.29,46.5V816.5M1116.23,46.5V816.5M1134.17,46.5V816.5M1152.11,46.5V816.5M1170.05,46.5V816.5M1187.98,46.5V816.5M1205.92,46.5V816.5M1223.86,46.5V816.5M1241.80,46.5V816.5M1259.74,46.5V816.5M1277.68,46.5V816.5M1295.62,46.5V816.5M1313.56,46.5V816.5" stroke="#ffffff" stroke-opacity="0.07" stroke-width="1" clip-path="url(#fb)"/>
<path d="M147.5,265.1 L153.5,265.4 L159.5,265.7 L165.5,266.1 L171.5,266.5 L177.5,266.9 L183.5,267.4 L189.5,267.8 L195.5,268.3 L201.5,268.8 L207.5,269.3 L213.5,269.9 L219.5,270.4 L225.5,271.0 L231.5,271.6 L237.5,272.2 L243.5,272.8 L249.5,273.5 L255.5,274.2 L261.5,274.8 L267.5,275.5 L273.5,276.2 L279.5,277.0 L285.5,277.7 L291.5,278.5 L297.5,279.3 L303.5,280.1 L309.5,280.9 L315.5,281.7 L321.5,282.6 L327.5,283.4 L333.5,284.3 L339.5,285.2 L345.5,286.1 L351.5,287.0 L357.5,287.9 L363.5,288.8 L369.5,289.8 L375.5,290.8 L381.5,291.8 L387.5,292.7 L393.5,293.7 L399.5,294.8 L405.5,295.8 L411.5,296.8 L417.5,297.9 L423.5,299.0 L429.5,300.0 L435.5,301.1 L441.5,302.2 L447.5,303.3 L453.5,304.5 L459.5,305.6 L465.5,306.7 L471.5,307.9 L477.5,309.1 L483.5,310.2 L489.5,311.4 L495.5,312.6 L501.5,313.8 L507.5,315.0 L513.5,316.2 L519.5,317.5 L525.5,318.7 L531.5,320.0 L537.5,321.2 L543.5,322.5 L549.5,323.8 L555.5,325.0 L561.5,326.3 L567.5,327.6 L573.5,328.9 L579.5,330.3 L585.5,331.6 L591.5,332.9 L597.5,334.3 L603.5,335.6 L609.5,337.0 L615.5,338.3 L621.5,339.7 L627.5,341.1 L633.5,342.5 L639.5,343.9 L645.5,345.3 L651.5,346.7 L657.5,348.1 L663.5,349.5 L669.5,351.0 L675.5,352.4 L681.5,353.9 L687.5,355.3 L693.5,356.8 L699.5,358.3 L705.5,359.7 L711.5,361.2 L717.5,362.7 L723.5,364.2 L729.5,365.7 L735.5,367.3 L741.5,368.8 L747.5,370.3 L753.5,371.9 L759.5,373.4 L765.5,375.0 L771.5,376.6 L777.5,378.2 L783.5,379.7 L789.5,381.3 L795.5,383.0 L801.5,384.6 L807.5,386.2 L813.5,387.8 L819.5,389.5 L825.5,391.2 L831.5,392.8 L837.5,394.5 L843.5,396.2 L849.5,397.9 L855.5,399.6 L861.5,401.4 L867.5,403.1 L873.5,404.9 L879.5,406.6 L885.5,408.4 L891.5,410.2 L897.5,412.0 L903.5,413.9 L909.5,415.7 L915.5,417.6 L921.5,419.5 L927.5,421.4 L933.5,423.3 L939.5,425.2 L945.5,427.2 L951.5,429.1 L957.5,431.1 L963.5,433.1 L969.5,435.2 L975.5,437.2 L981.5,439.3 L987.5,441.4 L993.5,443.6 L999.5,445.7 L1005.5,447.9 L1011.5,450.1 L1017.5,452.3 L1023.5,454.6 L1029.5,456.9 L1035.5,459.2 L1041.5,461.6 L1047.5,463.9 L1053.5,466.4 L1059.5,468.8 L1065.5,471.3 L1071.5,473.8 L1077.5,476.4 L1083.5,479.0 L1089.5,481.6 L1095.5,484.3 L1101.5,487.0 L1107.5,489.8 L1113.5,492.6 L1119.5,495.5 L1125.5,498.4 L1131.5,501.4 L1137.5,504.4 L1143.5,507.4 L1149.5,510.6 L1155.5,513.7 L1161.5,517.0 L1167.5,520.3 L1173.5,523.6 L1179.5,527.1 L1185.5,530.5 L1191.5,534.1 L1197.5,537.7 L1203.5,541.4 L1209.5,545.2 L1215.5,549.0 L1221.5,552.9 L1227.5,556.9 L1233.5,561.0 L1239.5,565.2 L1245.5,569.5 L1251.5,573.8 L1257.5,578.2 L1263.5,582.8 L1269.5,587.4 L1275.5,592.1 L1281.5,597.0 L1287.5,601.9 L1293.5,607.0 L1299.5,612.2 L1305.5,617.4 L1311.5,622.8 L1317.5,628.4 L1323.5,634.0 L1329.5,639.8 L1331.5,641.8" stroke="#0000ff" stroke-width="6.0"/>
</g>
<path d="M147.50,816.5V798.20M147.50,46.5V64.80M325.71,816.5V807.20M325.71,46.5V55.80M429.96,816.5V807.20M429.96,46.5V55.80M503.92,816.5V807.20M503.92,46.5V55.80M561.29,816.5V807.20M561.29,46.5V55.80M608.17,816.5V807.20M608.17,46.5V55.80M647.80,816.5V807.20M647.80,46.5V55.80M682.13,816.5V807.20M682.13,46.5V55.80M712.41,816.5V807.20M712.41,46.5V55.80M739.50,816.5V798.20M739.50,46.5V64.80M917.71,816.5V807.20M917.71,46.5V55.80M1021.96,816.5V807.20M1021.96,46.5V55.80M1095.92,816.5V807.20M1095.92,46.5V55.80M1153.29,816.5V807.20M1153.29,46.5V55.80M1200.17,816.5V807.20M1200.17,46.5V55.80M1239.80,816.5V807.20M1239.80,46.5V55.80M1274.13,816.5V807.20M1274.13,46.5V55.80M1304.41,816.5V807.20M1304.41,46.5V55.80M1331.50,816.5V798.20M1331.50,46.5V64.80M147.5,816.50H156.80M1331.5,816.50H1322.20M147.5,743.13H156.80M1331.5,743.13H1322.20M147.5,705.49H156.80M1331.5,705.49H1322.20M147.5,687.62H165.80M1331.5,687.62H1313.20M147.5,632.12H156.80M1331.5,632.12H1322.20M147.5,558.74H156.80M1331.5,558.74H1322.20M147.5,521.11H156.80M1331.5,521.11H1322.20M147.5,503.24H165.80M1331.5,503.24H1313.20M147.5,447.73H156.80M1331.5,447.73H1322.20M147.5,374.36H156.80M1331.5,374.36H1322.20M147.5,336.72H156.80M1331.5,336.72H1322.20M147.5,318.86H165.80M1331.5,318.86H1313.20M147.5,263.35H156.80M1331.5,263.35H1322.20M147.5,189.98H156.80M1331.5,189.98H1322.20M147.5,152.34H156.80M1331.5,152.34H1322.20M147.5,134.47H165.80M1331.5,134.47H1313.20M147.5,78.97H156.80M1331.5,78.97H1322.20" fill="none" stroke="#000" stroke-width="4.8" stroke-linecap="butt"/>
<g clip-path="url(#c)" fill="none" stroke-linejoin="round">
<path d="M147.5,276.2 L153.5,277.2 L159.5,278.2 L165.5,279.2 L171.5,280.3 L177.5,281.4 L183.5,282.5 L189.5,283.6 L195.5,284.8 L201.5,286.0 L207.5,287.2 L213.5,288.4 L219.5,289.7 L225.5,291.0 L231.5,292.3 L237.5,293.7 L243.5,295.1 L249.5,296.5 L255.5,297.9 L261.5,299.3 L267.5,300.8 L273.5,302.3 L279.5,303.8 L285.5,305.3 L291.5,306.9 L297.5,308.4 L303.5,310.0 L309.5,311.6 L315.5,313.3 L321.5,314.9 L327.5,316.6 L333.5,318.3 L339.5,320.0 L345.5,321.7 L351.5,323.5 L357.5,325.2 L363.5,327.0 L369.5,328.8 L375.5,330.6 L381.5,332.5 L387.5,334.3 L393.5,336.2 L399.5,338.0 L405.5,339.9 L411.5,341.8 L417.5,343.7 L423.5,345.7 L429.5,347.6 L435.5,349.6 L441.5,351.6 L447.5,353.5 L453.5,355.5 L459.5,357.5 L465.5,359.6 L471.5,361.6 L477.5,363.6 L483.5,365.7 L489.5,367.7 L495.5,369.8 L501.5,371.9 L507.5,374.0 L513.5,376.1 L519.5,378.2 L525.5,380.3 L531.5,382.4 L537.5,384.5 L543.5,386.7 L549.5,388.8 L555.5,391.0 L561.5,393.1 L567.5,395.3 L573.5,397.5 L579.5,399.6 L585.5,401.8 L591.5,404.0 L597.5,406.2 L603.5,408.4 L609.5,410.6 L615.5,412.8 L621.5,415.0 L627.5,417.3 L633.5,419.5 L639.5,421.7 L645.5,423.9 L651.5,426.2 L657.5,428.4 L663.5,430.6 L669.5,432.9 L675.5,435.1 L681.5,437.4 L687.5,439.6 L693.5,441.9 L699.5,444.1 L705.5,446.4 L711.5,448.6 L717.5,450.9 L723.5,453.1 L729.5,455.4 L735.5,457.7 L741.5,459.9 L747.5,462.2 L753.5,464.5 L759.5,466.7 L765.5,469.0 L771.5,471.3 L777.5,473.5 L783.5,475.8 L789.5,478.1 L795.5,480.3 L801.5,482.6 L807.5,484.9 L813.5,487.2 L819.5,489.5 L825.5,491.7 L831.5,494.0 L837.5,496.3 L843.5,498.6 L849.5,500.9 L855.5,503.2 L861.5,505.5 L867.5,507.8 L873.5,510.1 L879.5,512.4 L885.5,514.7 L891.5,517.0 L897.5,519.3 L903.5,521.7 L909.5,524.0 L915.5,526.3 L921.5,528.7 L927.5,531.0 L933.5,533.4 L939.5,535.7 L945.5,538.1 L951.5,540.5 L957.5,542.9 L963.5,545.3 L969.5,547.7 L975.5,550.2 L981.5,552.6 L987.5,555.1 L993.5,557.6 L999.5,560.1 L1005.5,562.6 L1011.5,565.1 L1017.5,567.7 L1023.5,570.2 L1029.5,572.8 L1035.5,575.5 L1041.5,578.1 L1047.5,580.8 L1053.5,583.5 L1059.5,586.3 L1065.5,589.0 L1071.5,591.8 L1077.5,594.7 L1083.5,597.6 L1089.5,600.5 L1095.5,603.5 L1101.5,606.5 L1107.5,609.6 L1113.5,612.7 L1119.5,615.9 L1125.5,619.1 L1131.5,622.4 L1137.5,625.8 L1143.5,629.2 L1149.5,632.7 L1155.5,636.3 L1161.5,639.9 L1167.5,643.6 L1173.5,647.5 L1179.5,651.4 L1185.5,655.4 L1191.5,659.5 L1197.5,663.7 L1203.5,668.0 L1209.5,672.5 L1215.5,677.0 L1221.5,681.7 L1227.5,686.5 L1233.5,691.5 L1239.5,696.6 L1245.5,701.9 L1251.5,707.3 L1257.5,712.9 L1263.5,718.7 L1269.5,724.7 L1275.5,730.9 L1281.5,737.3 L1287.5,743.9 L1293.5,750.7 L1299.5,757.7 L1305.5,765.1 L1311.5,772.6 L1317.5,780.5 L1323.5,788.6 L1329.5,797.0 L1331.5,799.9" stroke="#ff0000" stroke-width="6.0" stroke-dasharray="30,15"/>
<path d="M147.5,160.8 L153.5,161.1 L159.5,161.5 L165.5,161.9 L171.5,162.3 L177.5,162.8 L183.5,163.3 L189.5,163.8 L195.5,164.3 L201.5,164.9 L207.5,165.5 L213.5,166.1 L219.5,166.7 L225.5,167.4 L231.5,168.1 L237.5,168.8 L243.5,169.5 L249.5,170.2 L255.5,171.0 L261.5,171.8 L267.5,172.6 L273.5,173.5 L279.5,174.3 L285.5,175.2 L291.5,176.1 L297.5,177.0 L303.5,177.9 L309.5,178.9 L315.5,179.9 L321.5,180.9 L327.5,181.9 L333.5,182.9 L339.5,184.0 L345.5,185.1 L351.5,186.2 L357.5,187.3 L363.5,188.4 L369.5,189.5 L375.5,190.7 L381.5,191.9 L387.5,193.1 L393.5,194.3 L399.5,195.5 L405.5,196.7 L411.5,198.0 L417.5,199.3 L423.5,200.5 L429.5,201.9 L435.5,203.2 L441.5,204.5 L447.5,205.8 L453.5,207.2 L459.5,208.6 L465.5,210.0 L471.5,211.4 L477.5,212.8 L483.5,214.2 L489.5,215.6 L495.5,217.1 L501.5,218.6 L507.5,220.0 L513.5,221.5 L519.5,223.0 L525.5,224.5 L531.5,226.0 L537.5,227.6 L543.5,229.1 L549.5,230.7 L555.5,232.2 L561.5,233.8 L567.5,235.4 L573.5,237.0 L579.5,238.6 L585.5,240.2 L591.5,241.9 L597.5,243.5 L603.5,245.1 L609.5,246.8 L615.5,248.5 L621.5,250.1 L627.5,251.8 L633.5,253.5 L639.5,255.2 L645.5,256.9 L651.5,258.6 L657.5,260.4 L663.5,262.1 L669.5,263.9 L675.5,265.6 L681.5,267.4 L687.5,269.1 L693.5,270.9 L699.5,272.7 L705.5,274.5 L711.5,276.3 L717.5,278.1 L723.5,279.9 L729.5,281.8 L735.5,283.6 L741.5,285.4 L747.5,287.3 L753.5,289.2 L759.5,291.0 L765.5,292.9 L771.5,294.8 L777.5,296.7 L783.5,298.6 L789.5,300.5 L795.5,302.4 L801.5,304.4 L807.5,306.3 L813.5,308.2 L819.5,310.2 L825.5,312.2 L831.5,314.1 L837.5,316.1 L843.5,318.1 L849.5,320.1 L855.5,322.2 L861.5,324.2 L867.5,326.2 L873.5,328.3 L879.5,330.3 L885.5,332.4 L891.5,334.5 L897.5,336.6 L903.5,338.7 L909.5,340.8 L915.5,343.0 L921.5,345.1 L927.5,347.3 L933.5,349.4 L939.5,351.6 L945.5,353.8 L951.5,356.1 L957.5,358.3 L963.5,360.6 L969.5,362.8 L975.5,365.1 L981.5,367.4 L987.5,369.8 L993.5,372.1 L999.5,374.5 L1005.5,376.9 L1011.5,379.3 L1017.5,381.7 L1023.5,384.2 L1029.5,386.7 L1035.5,389.2 L1041.5,391.7 L1047.5,394.2 L1053.5,396.8 L1059.5,399.4 L1065.5,402.1 L1071.5,404.7 L1077.5,407.4 L1083.5,410.2 L1089.5,412.9 L1095.5,415.7 L1101.5,418.6 L1107.5,421.4 L1113.5,424.3 L1119.5,427.3 L1125.5,430.2 L1131.5,433.3 L1137.5,436.3 L1143.5,439.4 L1149.5,442.6 L1155.5,445.8 L1161.5,449.0 L1167.5,452.3 L1173.5,455.6 L1179.5,459.0 L1185.5,462.5 L1191.5,466.0 L1197.5,469.6 L1203.5,473.2 L1209.5,476.9 L1215.5,480.6 L1221.5,484.4 L1227.5,488.3 L1233.5,492.2 L1239.5,496.2 L1245.5,500.3 L1251.5,504.5 L1257.5,508.7 L1263.5,513.0 L1269.5,517.4 L1275.5,521.9 L1281.5,526.5 L1287.5,531.1 L1293.5,535.9 L1299.5,540.7 L1305.5,545.7 L1311.5,550.7 L1317.5,555.9 L1323.5,561.1 L1329.5,566.5 L1331.5,568.3" stroke="#00ff00" stroke-width="6.0" stroke-dasharray="30,15"/>
<path d="M147.5,209.3 L153.5,209.8 L159.5,210.3 L165.5,210.9 L171.5,211.5 L177.5,212.2 L183.5,212.8 L189.5,213.5 L195.5,214.2 L201.5,214.9 L207.5,215.7 L213.5,216.5 L219.5,217.3 L225.5,218.1 L231.5,219.0 L237.5,219.8 L243.5,220.7 L249.5,221.6 L255.5,222.6 L261.5,223.5 L267.5,224.5 L273.5,225.5 L279.5,226.6 L285.5,227.6 L291.5,228.7 L297.5,229.7 L303.5,230.8 L309.5,232.0 L315.5,233.1 L321.5,234.3 L327.5,235.4 L333.5,236.6 L339.5,237.8 L345.5,239.1 L351.5,240.3 L357.5,241.6 L363.5,242.9 L369.5,244.2 L375.5,245.5 L381.5,246.8 L387.5,248.1 L393.5,249.5 L399.5,250.9 L405.5,252.3 L411.5,253.7 L417.5,255.1 L423.5,256.5 L429.5,258.0 L435.5,259.4 L441.5,260.9 L447.5,262.4 L453.5,263.9 L459.5,265.4 L465.5,266.9 L471.5,268.4 L477.5,270.0 L483.5,271.5 L489.5,273.1 L495.5,274.7 L501.5,276.3 L507.5,277.9 L513.5,279.5 L519.5,281.1 L525.5,282.7 L531.5,284.4 L537.5,286.0 L543.5,287.7 L549.5,289.3 L555.5,291.0 L561.5,292.7 L567.5,294.4 L573.5,296.1 L579.5,297.8 L585.5,299.6 L591.5,301.3 L597.5,303.0 L603.5,304.8 L609.5,306.5 L615.5,308.3 L621.5,310.1 L627.5,311.8 L633.5,313.6 L639.5,315.4 L645.5,317.2 L651.5,319.0 L657.5,320.8 L663.5,322.6 L669.5,324.5 L675.5,326.3 L681.5,328.1 L687.5,330.0 L693.5,331.8 L699.5,333.7 L705.5,335.6 L711.5,337.4 L717.5,339.3 L723.5,341.2 L729.5,343.1 L735.5,345.0 L741.5,346.9 L747.5,348.8 L753.5,350.7 L759.5,352.7 L765.5,354.6 L771.5,356.5 L777.5,358.5 L783.5,360.4 L789.5,362.4 L795.5,364.4 L801.5,366.3 L807.5,368.3 L813.5,370.3 L819.5,372.3 L825.5,374.3 L831.5,376.3 L837.5,378.3 L843.5,380.4 L849.5,382.4 L855.5,384.5 L861.5,386.5 L867.5,388.6 L873.5,390.7 L879.5,392.8 L885.5,394.9 L891.5,397.0 L897.5,399.1 L903.5,401.2 L909.5,403.4 L915.5,405.5 L921.5,407.7 L927.5,409.9 L933.5,412.1 L939.5,414.3 L945.5,416.5 L951.5,418.8 L957.5,421.0 L963.5,423.3 L969.5,425.6 L975.5,427.9 L981.5,430.2 L987.5,432.6 L993.5,434.9 L999.5,437.3 L1005.5,439.7 L1011.5,442.1 L1017.5,444.6 L1023.5,447.1 L1029.5,449.6 L1035.5,452.1 L1041.5,454.6 L1047.5,457.2 L1053.5,459.8 L1059.5,462.4 L1065.5,465.1 L1071.5,467.8 L1077.5,470.5 L1083.5,473.3 L1089.5,476.0 L1095.5,478.9 L1101.5,481.7 L1107.5,484.6 L1113.5,487.6 L1119.5,490.5 L1125.5,493.6 L1131.5,496.6 L1137.5,499.7 L1143.5,502.9 L1149.5,506.1 L1155.5,509.3 L1161.5,512.6 L1167.5,516.0 L1173.5,519.4 L1179.5,522.8 L1185.5,526.4 L1191.5,529.9 L1197.5,533.6 L1203.5,537.3 L1209.5,541.1 L1215.5,544.9 L1221.5,548.8 L1227.5,552.8 L1233.5,556.8 L1239.5,561.0 L1245.5,565.2 L1251.5,569.5 L1257.5,573.9 L1263.5,578.3 L1269.5,582.9 L1275.5,587.5 L1281.5,592.3 L1287.5,597.1 L1293.5,602.0 L1299.5,607.1 L1305.5,612.2 L1311.5,617.5 L1317.5,622.9 L1323.5,628.3 L1329.5,634.0 L1331.5,635.9" stroke="#0000ff" stroke-width="6.0" stroke-dasharray="30,15"/>
<path d="M147.5,352.5 L153.5,353.3 L159.5,354.1 L165.5,355.0 L171.5,355.8 L177.5,356.7 L183.5,357.6 L189.5,358.5 L195.5,359.5 L201.5,360.4 L207.5,361.3 L213.5,362.3 L219.5,363.3 L225.5,364.2 L231.5,365.2 L237.5,366.3 L243.5,367.3 L249.5,368.3 L255.5,369.4 L261.5,370.4 L267.5,371.5 L273.5,372.6 L279.5,373.6 L285.5,374.7 L291.5,375.8 L297.5,377.0 L303.5,378.1 L309.5,379.2 L315.5,380.4 L321.5,381.5 L327.5,382.7 L333.5,383.9 L339.5,385.1 L345.5,386.3 L351.5,387.5 L357.5,388.7 L363.5,389.9 L369.5,391.2 L375.5,392.4 L381.5,393.6 L387.5,394.9 L393.5,396.2 L399.5,397.4 L405.5,398.7 L411.5,400.0 L417.5,401.3 L423.5,402.6 L429.5,403.9 L435.5,405.2 L441.5,406.5 L447.5,407.8 L453.5,409.2 L459.5,410.5 L465.5,411.9 L471.5,413.2 L477.5,414.6 L483.5,415.9 L489.5,417.3 L495.5,418.7 L501.5,420.0 L507.5,421.4 L513.5,422.8 L519.5,424.2 L525.5,425.6 L531.5,427.0 L537.5,428.4 L543.5,429.8 L549.5,431.2 L555.5,432.6 L561.5,434.1 L567.5,435.5 L573.5,436.9 L579.5,438.4 L585.5,439.8 L591.5,441.2 L597.5,442.7 L603.5,444.1 L609.5,445.6 L615.5,447.0 L621.5,448.5 L627.5,450.0 L633.5,451.4 L639.5,452.9 L645.5,454.4 L651.5,455.8 L657.5,457.3 L663.5,458.8 L669.5,460.3 L675.5,461.7 L681.5,463.2 L687.5,464.7 L693.5,466.2 L699.5,467.7 L705.5,469.2 L711.5,470.7 L717.5,472.2 L723.5,473.7 L729.5,475.2 L735.5,476.7 L741.5,478.2 L747.5,479.7 L753.5,481.2 L759.5,482.7 L765.5,484.3 L771.5,485.8 L777.5,487.3 L783.5,488.8 L789.5,490.3 L795.5,491.9 L801.5,493.4 L807.5,494.9 L813.5,496.5 L819.5,498.0 L825.5,499.6 L831.5,501.1 L837.5,502.7 L843.5,504.2 L849.5,505.8 L855.5,507.3 L861.5,508.9 L867.5,510.4 L873.5,512.0 L879.5,513.6 L885.5,515.2 L891.5,516.7 L897.5,518.3 L903.5,519.9 L909.5,521.5 L915.5,523.1 L921.5,524.7 L927.5,526.3 L933.5,527.9 L939.5,529.5 L945.5,531.2 L951.5,532.8 L957.5,534.4 L963.5,536.1 L969.5,537.7 L975.5,539.4 L981.5,541.1 L987.5,542.7 L993.5,544.4 L999.5,546.1 L1005.5,547.8 L1011.5,549.5 L1017.5,551.2 L1023.5,553.0 L1029.5,554.7 L1035.5,556.5 L1041.5,558.2 L1047.5,560.0 L1053.5,561.8 L1059.5,563.6 L1065.5,565.4 L1071.5,567.2 L1077.5,569.1 L1083.5,570.9 L1089.5,572.8 L1095.5,574.7 L1101.5,576.6 L1107.5,578.5 L1113.5,580.4 L1119.5,582.4 L1125.5,584.4 L1131.5,586.4 L1137.5,588.4 L1143.5,590.4 L1149.5,592.5 L1155.5,594.6 L1161.5,596.7 L1167.5,598.8 L1173.5,601.0 L1179.5,603.2 L1185.5,605.4 L1191.5,607.6 L1197.5,609.9 L1203.5,612.2 L1209.5,614.6 L1215.5,616.9 L1221.5,619.3 L1227.5,621.8 L1233.5,624.3 L1239.5,626.8 L1245.5,629.3 L1251.5,631.9 L1257.5,634.5 L1263.5,637.2 L1269.5,639.9 L1275.5,642.7 L1281.5,645.5 L1287.5,648.4 L1293.5,651.3 L1299.5,654.2 L1305.5,657.3 L1311.5,660.3 L1317.5,663.5 L1323.5,666.6 L1329.5,669.9 L1331.5,671.0" stroke="#c0c0c0" stroke-width="4.1"/>
<path d="M147.5,133.8 L153.5,134.9 L159.5,136.1 L165.5,137.3 L171.5,138.4 L177.5,139.6 L183.5,140.8 L189.5,142.0 L195.5,143.3 L201.5,144.5 L207.5,145.7 L213.5,146.9 L219.5,148.2 L225.5,149.4 L231.5,150.7 L237.5,152.0 L243.5,153.2 L249.5,154.5 L255.5,155.8 L261.5,157.1 L267.5,158.4 L273.5,159.7 L279.5,161.1 L285.5,162.4 L291.5,163.7 L297.5,165.1 L303.5,166.4 L309.5,167.8 L315.5,169.1 L321.5,170.5 L327.5,171.9 L333.5,173.3 L339.5,174.6 L345.5,176.0 L351.5,177.4 L357.5,178.9 L363.5,180.3 L369.5,181.7 L375.5,183.1 L381.5,184.6 L387.5,186.0 L393.5,187.5 L399.5,188.9 L405.5,190.4 L411.5,191.8 L417.5,193.3 L423.5,194.8 L429.5,196.3 L435.5,197.8 L441.5,199.3 L447.5,200.8 L453.5,202.3 L459.5,203.8 L465.5,205.3 L471.5,206.9 L477.5,208.4 L483.5,210.0 L489.5,211.5 L495.5,213.1 L501.5,214.6 L507.5,216.2 L513.5,217.8 L519.5,219.3 L525.5,220.9 L531.5,222.5 L537.5,224.1 L543.5,225.7 L549.5,227.3 L555.5,228.9 L561.5,230.5 L567.5,232.2 L573.5,233.8 L579.5,235.4 L585.5,237.1 L591.5,238.7 L597.5,240.4 L603.5,242.0 L609.5,243.7 L615.5,245.4 L621.5,247.0 L627.5,248.7 L633.5,250.4 L639.5,252.1 L645.5,253.8 L651.5,255.5 L657.5,257.2 L663.5,258.9 L669.5,260.6 L675.5,262.3 L681.5,264.1 L687.5,265.8 L693.5,267.5 L699.5,269.3 L705.5,271.0 L711.5,272.8 L717.5,274.6 L723.5,276.3 L729.5,278.1 L735.5,279.9 L741.5,281.7 L747.5,283.5 L753.5,285.3 L759.5,287.1 L765.5,288.9 L771.5,290.7 L777.5,292.5 L783.5,294.3 L789.5,296.2 L795.5,298.0 L801.5,299.8 L807.5,301.7 L813.5,303.5 L819.5,305.4 L825.5,307.3 L831.5,309.1 L837.5,311.0 L843.5,312.9 L849.5,314.8 L855.5,316.7 L861.5,318.6 L867.5,320.5 L873.5,322.5 L879.5,324.4 L885.5,326.3 L891.5,328.3 L897.5,330.2 L903.5,332.2 L909.5,334.1 L915.5,336.1 L921.5,338.1 L927.5,340.1 L933.5,342.0 L939.5,344.0 L945.5,346.1 L951.5,348.1 L957.5,350.1 L963.5,352.1 L969.5,354.2 L975.5,356.2 L981.5,358.3 L987.5,360.4 L993.5,362.4 L999.5,364.5 L1005.5,366.6 L1011.5,368.7 L1017.5,370.8 L1023.5,373.0 L1029.5,375.1 L1035.5,377.2 L1041.5,379.4 L1047.5,381.6 L1053.5,383.7 L1059.5,385.9 L1065.5,388.1 L1071.5,390.4 L1077.5,392.6 L1083.5,394.8 L1089.5,397.1 L1095.5,399.3 L1101.5,401.6 L1107.5,403.9 L1113.5,406.2 L1119.5,408.5 L1125.5,410.8 L1131.5,413.2 L1137.5,415.5 L1143.5,417.9 L1149.5,420.3 L1155.5,422.7 L1161.5,425.1 L1167.5,427.6 L1173.5,430.0 L1179.5,432.5 L1185.5,435.0 L1191.5,437.5 L1197.5,440.0 L1203.5,442.6 L1209.5,445.1 L1215.5,447.7 L1221.5,450.3 L1227.5,452.9 L1233.5,455.6 L1239.5,458.3 L1245.5,460.9 L1251.5,463.7 L1257.5,466.4 L1263.5,469.2 L1269.5,471.9 L1275.5,474.7 L1281.5,477.6 L1287.5,480.4 L1293.5,483.3 L1299.5,486.3 L1305.5,489.2 L1311.5,492.2 L1317.5,495.2 L1323.5,498.2 L1329.5,501.3 L1331.5,502.3" stroke="#c0c0c0" stroke-width="4.1"/>
<path d="M147.5,124.3 L153.5,125.6 L159.5,126.8 L165.5,128.1 L171.5,129.4 L177.5,130.7 L183.5,131.9 L189.5,133.2 L195.5,134.4 L201.5,135.6 L207.5,136.8 L213.5,138.1 L219.5,139.3 L225.5,140.5 L231.5,141.7 L237.5,142.8 L243.5,144.0 L249.5,145.2 L255.5,146.4 L261.5,147.6 L267.5,148.7 L273.5,149.9 L279.5,151.0 L285.5,152.2 L291.5,153.3 L297.5,154.5 L303.5,155.6 L309.5,156.8 L315.5,157.9 L321.5,159.1 L327.5,160.2 L333.5,161.3 L339.5,162.5 L345.5,163.6 L351.5,164.8 L357.5,165.9 L363.5,167.0 L369.5,168.2 L375.5,169.3 L381.5,170.4 L387.5,171.6 L393.5,172.7 L399.5,173.9 L405.5,175.0 L411.5,176.2 L417.5,177.3 L423.5,178.5 L429.5,179.6 L435.5,180.8 L441.5,182.0 L447.5,183.1 L453.5,184.3 L459.5,185.5 L465.5,186.7 L471.5,187.8 L477.5,189.0 L483.5,190.2 L489.5,191.4 L495.5,192.6 L501.5,193.9 L507.5,195.1 L513.5,196.3 L519.5,197.5 L525.5,198.8 L531.5,200.0 L537.5,201.2 L543.5,202.5 L549.5,203.8 L555.5,205.0 L561.5,206.3 L567.5,207.6 L573.5,208.9 L579.5,210.2 L585.5,211.5 L591.5,212.8 L597.5,214.1 L603.5,215.5 L609.5,216.8 L615.5,218.2 L621.5,219.5 L627.5,220.9 L633.5,222.2 L639.5,223.6 L645.5,225.0 L651.5,226.4 L657.5,227.8 L663.5,229.2 L669.5,230.7 L675.5,232.1 L681.5,233.5 L687.5,235.0 L693.5,236.5 L699.5,237.9 L705.5,239.4 L711.5,240.9 L717.5,242.4 L723.5,243.9 L729.5,245.4 L735.5,246.9 L741.5,248.5 L747.5,250.0 L753.5,251.6 L759.5,253.1 L765.5,254.7 L771.5,256.3 L777.5,257.8 L783.5,259.4 L789.5,261.0 L795.5,262.6 L801.5,264.3 L807.5,265.9 L813.5,267.5 L819.5,269.2 L825.5,270.8 L831.5,272.5 L837.5,274.1 L843.5,275.8 L849.5,277.5 L855.5,279.1 L861.5,280.8 L867.5,282.5 L873.5,284.2 L879.5,285.9 L885.5,287.7 L891.5,289.4 L897.5,291.1 L903.5,292.8 L909.5,294.6 L915.5,296.3 L921.5,298.1 L927.5,299.8 L933.5,301.6 L939.5,303.3 L945.5,305.1 L951.5,306.9 L957.5,308.6 L963.5,310.4 L969.5,312.2 L975.5,314.0 L981.5,315.8 L987.5,317.6 L993.5,319.3 L999.5,321.1 L1005.5,322.9 L1011.5,324.7 L1017.5,326.5 L1023.5,328.3 L1029.5,330.2 L1035.5,332.0 L1041.5,333.8 L1047.5,335.6 L1053.5,337.4 L1059.5,339.2 L1065.5,341.1 L1071.5,342.9 L1077.5,344.7 L1083.5,346.6 L1089.5,348.4 L1095.5,350.3 L1101.5,352.1 L1107.5,354.0 L1113.5,355.8 L1119.5,357.7 L1125.5,359.6 L1131.5,361.5 L1137.5,363.4 L1143.5,365.3 L1149.5,367.2 L1155.5,369.1 L1161.5,371.0 L1167.5,373.0 L1173.5,375.0 L1179.5,377.0 L1185.5,379.0 L1191.5,381.0 L1197.5,383.0 L1203.5,385.1 L1209.5,387.2 L1215.5,389.4 L1221.5,391.5 L1227.5,393.7 L1233.5,396.0 L1239.5,398.3 L1245.5,400.6 L1251.5,403.0 L1257.5,405.4 L1263.5,407.9 L1269.5,410.5 L1275.5,413.1 L1281.5,415.8 L1287.5,418.6 L1293.5,421.5 L1299.5,424.5 L1305.5,427.5 L1311.5,430.7 L1317.5,434.0 L1323.5,437.4 L1329.5,440.9 L1331.5,442.1" stroke="#c0c0c0" stroke-width="4.1" stroke-dasharray="20,10"/>
<path d="M147.5,212.0 L153.5,213.2 L159.5,214.3 L165.5,215.5 L171.5,216.7 L177.5,217.9 L183.5,219.1 L189.5,220.3 L195.5,221.5 L201.5,222.7 L207.5,223.9 L213.5,225.1 L219.5,226.3 L225.5,227.6 L231.5,228.8 L237.5,230.0 L243.5,231.3 L249.5,232.5 L255.5,233.8 L261.5,235.1 L267.5,236.3 L273.5,237.6 L279.5,238.9 L285.5,240.2 L291.5,241.4 L297.5,242.7 L303.5,244.0 L309.5,245.3 L315.5,246.6 L321.5,248.0 L327.5,249.3 L333.5,250.6 L339.5,251.9 L345.5,253.3 L351.5,254.6 L357.5,255.9 L363.5,257.3 L369.5,258.6 L375.5,260.0 L381.5,261.4 L387.5,262.7 L393.5,264.1 L399.5,265.5 L405.5,266.9 L411.5,268.2 L417.5,269.6 L423.5,271.0 L429.5,272.4 L435.5,273.8 L441.5,275.2 L447.5,276.7 L453.5,278.1 L459.5,279.5 L465.5,280.9 L471.5,282.4 L477.5,283.8 L483.5,285.2 L489.5,286.7 L495.5,288.1 L501.5,289.6 L507.5,291.1 L513.5,292.5 L519.5,294.0 L525.5,295.5 L531.5,296.9 L537.5,298.4 L543.5,299.9 L549.5,301.4 L555.5,302.9 L561.5,304.4 L567.5,305.9 L573.5,307.4 L579.5,308.9 L585.5,310.5 L591.5,312.0 L597.5,313.5 L603.5,315.0 L609.5,316.6 L615.5,318.1 L621.5,319.7 L627.5,321.2 L633.5,322.8 L639.5,324.3 L645.5,325.9 L651.5,327.5 L657.5,329.1 L663.5,330.6 L669.5,332.2 L675.5,333.8 L681.5,335.4 L687.5,337.0 L693.5,338.6 L699.5,340.2 L705.5,341.8 L711.5,343.5 L717.5,345.1 L723.5,346.7 L729.5,348.4 L735.5,350.0 L741.5,351.7 L747.5,353.3 L753.5,355.0 L759.5,356.6 L765.5,358.3 L771.5,360.0 L777.5,361.6 L783.5,363.3 L789.5,365.0 L795.5,366.7 L801.5,368.4 L807.5,370.1 L813.5,371.8 L819.5,373.6 L825.5,375.3 L831.5,377.0 L837.5,378.8 L843.5,380.5 L849.5,382.3 L855.5,384.0 L861.5,385.8 L867.5,387.6 L873.5,389.3 L879.5,391.1 L885.5,392.9 L891.5,394.7 L897.5,396.5 L903.5,398.3 L909.5,400.2 L915.5,402.0 L921.5,403.8 L927.5,405.7 L933.5,407.5 L939.5,409.4 L945.5,411.3 L951.5,413.1 L957.5,415.0 L963.5,416.9 L969.5,418.8 L975.5,420.7 L981.5,422.7 L987.5,424.6 L993.5,426.5 L999.5,428.5 L1005.5,430.4 L1011.5,432.4 L1017.5,434.4 L1023.5,436.4 L1029.5,438.4 L1035.5,440.4 L1041.5,442.4 L1047.5,444.5 L1053.5,446.5 L1059.5,448.6 L1065.5,450.6 L1071.5,452.7 L1077.5,454.8 L1083.5,456.9 L1089.5,459.0 L1095.5,461.2 L1101.5,463.3 L1107.5,465.5 L1113.5,467.7 L1119.5,469.9 L1125.5,472.1 L1131.5,474.3 L1137.5,476.5 L1143.5,478.8 L1149.5,481.0 L1155.5,483.3 L1161.5,485.6 L1167.5,488.0 L1173.5,490.3 L1179.5,492.7 L1185.5,495.0 L1191.5,497.4 L1197.5,499.8 L1203.5,502.3 L1209.5,504.7 L1215.5,507.2 L1221.5,509.7 L1227.5,512.2 L1233.5,514.8 L1239.5,517.3 L1245.5,519.9 L1251.5,522.5 L1257.5,525.2 L1263.5,527.8 L1269.5,530.5 L1275.5,533.2 L1281.5,536.0 L1287.5,538.7 L1293.5,541.5 L1299.5,544.3 L1305.5,547.2 L1311.5,550.1 L1317.5,553.0 L1323.5,555.9 L1329.5,558.9 L1331.5,559.9" stroke="#c0c0c0" stroke-width="4.1"/>
<path d="M147.5,208.0 L153.5,209.3 L159.5,210.6 L165.5,211.8 L171.5,213.1 L177.5,214.4 L183.5,215.6 L189.5,216.9 L195.5,218.1 L201.5,219.4 L207.5,220.6 L213.5,221.9 L219.5,223.1 L225.5,224.3 L231.5,225.5 L237.5,226.8 L243.5,228.0 L249.5,229.2 L255.5,230.4 L261.5,231.6 L267.5,232.8 L273.5,234.0 L279.5,235.2 L285.5,236.4 L291.5,237.6 L297.5,238.8 L303.5,240.0 L309.5,241.1 L315.5,242.3 L321.5,243.5 L327.5,244.7 L333.5,245.9 L339.5,247.1 L345.5,248.2 L351.5,249.4 L357.5,250.6 L363.5,251.8 L369.5,253.0 L375.5,254.1 L381.5,255.3 L387.5,256.5 L393.5,257.7 L399.5,258.9 L405.5,260.1 L411.5,261.3 L417.5,262.4 L423.5,263.6 L429.5,264.8 L435.5,266.0 L441.5,267.2 L447.5,268.4 L453.5,269.6 L459.5,270.8 L465.5,272.0 L471.5,273.2 L477.5,274.5 L483.5,275.7 L489.5,276.9 L495.5,278.1 L501.5,279.3 L507.5,280.6 L513.5,281.8 L519.5,283.0 L525.5,284.3 L531.5,285.5 L537.5,286.8 L543.5,288.0 L549.5,289.3 L555.5,290.6 L561.5,291.8 L567.5,293.1 L573.5,294.4 L579.5,295.7 L585.5,297.0 L591.5,298.3 L597.5,299.6 L603.5,300.9 L609.5,302.2 L615.5,303.5 L621.5,304.9 L627.5,306.2 L633.5,307.5 L639.5,308.9 L645.5,310.2 L651.5,311.6 L657.5,312.9 L663.5,314.3 L669.5,315.7 L675.5,317.1 L681.5,318.5 L687.5,319.9 L693.5,321.3 L699.5,322.7 L705.5,324.1 L711.5,325.5 L717.5,327.0 L723.5,328.4 L729.5,329.8 L735.5,331.3 L741.5,332.8 L747.5,334.2 L753.5,335.7 L759.5,337.2 L765.5,338.7 L771.5,340.2 L777.5,341.7 L783.5,343.2 L789.5,344.7 L795.5,346.3 L801.5,347.8 L807.5,349.3 L813.5,350.9 L819.5,352.5 L825.5,354.0 L831.5,355.6 L837.5,357.2 L843.5,358.8 L849.5,360.4 L855.5,362.0 L861.5,363.6 L867.5,365.2 L873.5,366.8 L879.5,368.5 L885.5,370.1 L891.5,371.8 L897.5,373.4 L903.5,375.1 L909.5,376.8 L915.5,378.5 L921.5,380.2 L927.5,381.9 L933.5,383.6 L939.5,385.3 L945.5,387.0 L951.5,388.7 L957.5,390.5 L963.5,392.2 L969.5,394.0 L975.5,395.7 L981.5,397.5 L987.5,399.3 L993.5,401.0 L999.5,402.8 L1005.5,404.6 L1011.5,406.4 L1017.5,408.2 L1023.5,410.1 L1029.5,411.9 L1035.5,413.7 L1041.5,415.6 L1047.5,417.4 L1053.5,419.3 L1059.5,421.2 L1065.5,423.1 L1071.5,425.0 L1077.5,426.9 L1083.5,428.8 L1089.5,430.7 L1095.5,432.6 L1101.5,434.6 L1107.5,436.5 L1113.5,438.5 L1119.5,440.5 L1125.5,442.5 L1131.5,444.5 L1137.5,446.5 L1143.5,448.5 L1149.5,450.5 L1155.5,452.6 L1161.5,454.7 L1167.5,456.8 L1173.5,458.9 L1179.5,461.0 L1185.5,463.2 L1191.5,465.3 L1197.5,467.5 L1203.5,469.8 L1209.5,472.0 L1215.5,474.3 L1221.5,476.6 L1227.5,478.9 L1233.5,481.2 L1239.5,483.6 L1245.5,486.1 L1251.5,488.5 L1257.5,491.0 L1263.5,493.5 L1269.5,496.1 L1275.5,498.8 L1281.5,501.4 L1287.5,504.2 L1293.5,506.9 L1299.5,509.8 L1305.5,512.7 L1311.5,515.7 L1317.5,518.7 L1323.5,521.8 L1329.5,525.0 L1331.5,526.1" stroke="#c0c0c0" stroke-width="4.1" stroke-dasharray="20,10"/>
</g>
<rect x="147.5" y="46.5" width="1184.0" height="770.0" fill="none" stroke="#000" stroke-width="4.8" stroke-linejoin="miter"/>
<text transform="translate(1175.50,109.70) scale(1.0,1.095)" font-size="41.0" text-anchor="end">INFC</text>
<rect x="1199" y="89.7" width="109.5" height="22" fill="#ff8080"/>
<text transform="translate(1175.50,153.50) scale(1.0,1.095)" font-size="41.0" text-anchor="end">SUPC</text>
<rect x="1199" y="133.5" width="109.5" height="22" fill="#80ff80"/>
<text transform="translate(1175.50,197.30) scale(1.0,1.095)" font-size="41.0" text-anchor="end">NODE</text>
<rect x="1199" y="177.3" width="109.5" height="22" fill="#8080ff"/>
<text transform="translate(652.00,630.70) scale(1.0,1.095)" font-size="41.0" text-anchor="end">Losses:IC and Adiabatic</text>
<path d="M675.5,621.3H785" stroke="#ff0000" stroke-width="6.0" fill="none"/>
<text transform="translate(652.00,674.50) scale(1.0,1.095)" font-size="41.0" text-anchor="end">Losses:IC</text>
<path d="M675.5,665.1H785" stroke="#ff0000" stroke-width="6.0" fill="none" stroke-dasharray="30,15"/>
<text transform="translate(652.00,718.30) scale(1.0,1.095)" font-size="41.0" text-anchor="end">No Advection</text>
<path d="M675.5,708.9H785" stroke="#c0c0c0" stroke-width="4.1" fill="none"/>
<text transform="translate(61.80,706.12) scale(0.965,1.08)" font-size="41.0" text-anchor="start">10<tspan font-size="32.8" dy="-14.89">6</tspan></text>
<text transform="translate(61.80,521.74) scale(0.965,1.08)" font-size="41.0" text-anchor="start">10<tspan font-size="32.8" dy="-14.89">7</tspan></text>
<text transform="translate(61.80,337.36) scale(0.965,1.08)" font-size="41.0" text-anchor="start">10<tspan font-size="32.8" dy="-14.89">8</tspan></text>
<text transform="translate(61.80,152.97) scale(0.965,1.08)" font-size="41.0" text-anchor="start">10<tspan font-size="32.8" dy="-14.89">9</tspan></text>
<text transform="translate(147.00,869.90) scale(0.98,1.08)" font-size="41.0" text-anchor="middle">0.1</text>
<text transform="translate(739.00,869.90) scale(0.98,1.08)" font-size="41.0" text-anchor="middle">1.0</text>
<text transform="translate(1331.00,869.90) scale(0.98,1.08)" font-size="41.0" text-anchor="middle">10.0</text>
<text transform="translate(664.30,935.20) scale(1.0,1.095)" font-size="41.0" text-anchor="start">E<tspan font-size="36.4" dy="9.13">γ</tspan><tspan dy="-9.13">, GeV</tspan></text>
<text transform="translate(52.00,675.00) rotate(-90) scale(1.005,1.095)" font-size="41.0" text-anchor="start">E<tspan font-size="36.4" dy="9.13">γ</tspan><tspan font-size="32.8" dy="-23.74">2</tspan><tspan dy="14.61">dN</tspan><tspan font-size="36.4" dy="9.13">γ</tspan><tspan dy="-9.13">/dE</tspan><tspan font-size="36.4" dy="9.13">γ</tspan><tspan dy="-9.13">, arbitrary units</tspan></text>
<text transform="translate(563.50,148.30) scale(1.0,1.095)" font-size="41.0" text-anchor="start">β=0.9, <tspan font-style="italic">i</tspan><tspan font-size="32.8" dy="7.76">orb</tspan><tspan dy="-7.76">=π/3</tspan></text>
</svg></body></html>
